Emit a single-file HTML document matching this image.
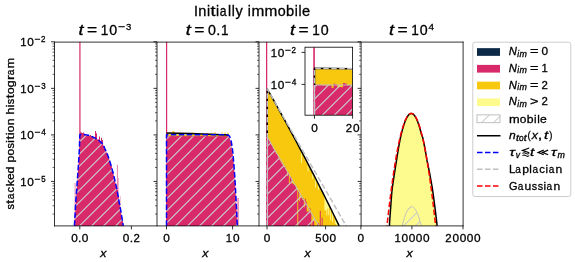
<!DOCTYPE html>
<html><head><meta charset="utf-8"><title>Initially immobile</title><style>html,body{margin:0;padding:0;background:#fff;}body{width:575px;height:262px;overflow:hidden;}text{font-family:"Liberation Sans",sans-serif;stroke:#000;stroke-width:0.3px;}</style></head><body>
<svg width="575" height="262" viewBox="0 0 575 262" style="will-change:transform;display:block;font-family:'Liberation Sans',sans-serif">
<defs>
<pattern id="hatch" patternUnits="userSpaceOnUse" x="0" y="0" width="12" height="12"><path d="M-4,9.5 L9.5,-4 M1.5,16 L16,1.5" stroke="#cdcfcf" stroke-width="1.1" fill="none"/></pattern>
<pattern id="hatchL" patternUnits="userSpaceOnUse" x="0" y="0" width="12" height="12"><path d="M-4,8.2 L8.2,-4 M0.20000000000000018,16 L16,0.20000000000000018" stroke="#cdcfcf" stroke-width="1.1" fill="none"/></pattern>
<clipPath id="ax0"><rect x="54.5" y="41.8" width="102.10" height="184.10"/></clipPath>
<clipPath id="ax1"><rect x="156.6" y="41.8" width="102.10" height="184.10"/></clipPath>
<clipPath id="ax2"><rect x="258.7" y="41.8" width="102.20" height="184.10"/></clipPath>
<clipPath id="ax3"><rect x="360.9" y="41.8" width="102.10" height="184.10"/></clipPath>
<clipPath id="inset"><rect x="305" y="47.2" width="47.6" height="68"/></clipPath>
</defs>
<rect width="575" height="262" fill="#fff"/>
<g clip-path="url(#ax0)">
<clipPath id="env1"><path d="M74.40,225.90 L74.49,224.37 L74.61,222.23 L74.76,219.70 L74.91,217.01 L75.06,214.37 L75.20,212.00 L75.32,209.89 L75.43,207.86 L75.54,205.88 L75.66,203.93 L75.77,201.98 L75.90,200.00 L76.04,198.01 L76.19,196.04 L76.34,194.06 L76.49,192.07 L76.65,190.06 L76.80,188.00 L76.95,185.89 L77.10,183.74 L77.25,181.56 L77.40,179.37 L77.55,177.18 L77.70,175.00 L77.85,172.82 L78.01,170.63 L78.16,168.44 L78.31,166.26 L78.46,164.11 L78.60,162.00 L78.73,159.90 L78.86,157.78 L78.99,155.69 L79.10,153.67 L79.21,151.76 L79.30,150.00 L79.37,148.41 L79.43,146.96 L79.48,145.62 L79.52,144.37 L79.56,143.17 L79.60,142.00 L79.64,140.81 L79.68,139.63 L79.72,138.50 L79.75,137.48 L79.78,136.63 L79.80,136.00 L79.90,134.60 L80.24,134.58 L80.72,134.56 L81.28,134.53 L81.88,134.51 L82.47,134.49 L83.00,134.50 L83.47,134.52 L83.91,134.56 L84.34,134.60 L84.77,134.66 L85.22,134.72 L85.70,134.80 L86.21,134.88 L86.73,134.97 L87.28,135.08 L87.83,135.19 L88.41,135.33 L89.00,135.50 L89.61,135.69 L90.23,135.91 L90.88,136.14 L91.53,136.40 L92.21,136.69 L92.90,137.00 L93.62,137.34 L94.38,137.70 L95.15,138.09 L95.92,138.51 L96.68,138.94 L97.40,139.40 L98.11,139.90 L98.81,140.44 L99.51,141.00 L100.16,141.56 L100.77,142.10 L101.30,142.60 L101.75,143.03 L102.13,143.42 L102.45,143.78 L102.74,144.15 L103.02,144.55 L103.30,145.00 L103.57,145.50 L103.80,146.01 L104.02,146.56 L104.24,147.14 L104.50,147.79 L104.80,148.50 L105.16,149.27 L105.55,150.09 L105.98,150.97 L106.41,151.91 L106.86,152.92 L107.30,154.00 L107.74,155.17 L108.18,156.41 L108.62,157.72 L109.08,159.09 L109.54,160.52 L110.00,162.00 L110.48,163.56 L110.98,165.22 L111.49,166.94 L111.99,168.67 L112.46,170.37 L112.90,172.00 L113.30,173.56 L113.66,175.07 L114.01,176.56 L114.34,178.04 L114.67,179.51 L115.00,181.00 L115.34,182.49 L115.68,183.96 L116.02,185.44 L116.35,186.93 L116.68,188.44 L117.00,190.00 L117.31,191.59 L117.60,193.19 L117.89,194.81 L118.18,196.48 L118.48,198.21 L118.80,200.00 L119.14,201.86 L119.50,203.78 L119.87,205.76 L120.24,207.79 L120.62,209.87 L121.00,212.00 L121.40,214.37 L121.84,217.01 L122.29,219.70 L122.70,222.23 L123.05,224.37 L123.30,225.90 Z"/></clipPath>
<path d="M74.40,225.90 L74.49,224.37 L74.61,222.23 L74.76,219.70 L74.91,217.01 L75.06,214.37 L75.20,212.00 L75.32,209.89 L75.43,207.86 L75.54,205.88 L75.66,203.93 L75.77,201.98 L75.90,200.00 L76.04,198.01 L76.19,196.04 L76.34,194.06 L76.49,192.07 L76.65,190.06 L76.80,188.00 L76.95,185.89 L77.10,183.74 L77.25,181.56 L77.40,179.37 L77.55,177.18 L77.70,175.00 L77.85,172.82 L78.01,170.63 L78.16,168.44 L78.31,166.26 L78.46,164.11 L78.60,162.00 L78.73,159.90 L78.86,157.78 L78.99,155.69 L79.10,153.67 L79.21,151.76 L79.30,150.00 L79.37,148.41 L79.43,146.96 L79.48,145.62 L79.52,144.37 L79.56,143.17 L79.60,142.00 L79.64,140.81 L79.68,139.63 L79.72,138.50 L79.75,137.48 L79.78,136.63 L79.80,136.00 L79.90,134.60 L80.24,134.58 L80.72,134.56 L81.28,134.53 L81.88,134.51 L82.47,134.49 L83.00,134.50 L83.47,134.52 L83.91,134.56 L84.34,134.60 L84.77,134.66 L85.22,134.72 L85.70,134.80 L86.21,134.88 L86.73,134.97 L87.28,135.08 L87.83,135.19 L88.41,135.33 L89.00,135.50 L89.61,135.69 L90.23,135.91 L90.88,136.14 L91.53,136.40 L92.21,136.69 L92.90,137.00 L93.62,137.34 L94.38,137.70 L95.15,138.09 L95.92,138.51 L96.68,138.94 L97.40,139.40 L98.11,139.90 L98.81,140.44 L99.51,141.00 L100.16,141.56 L100.77,142.10 L101.30,142.60 L101.75,143.03 L102.13,143.42 L102.45,143.78 L102.74,144.15 L103.02,144.55 L103.30,145.00 L103.57,145.50 L103.80,146.01 L104.02,146.56 L104.24,147.14 L104.50,147.79 L104.80,148.50 L105.16,149.27 L105.55,150.09 L105.98,150.97 L106.41,151.91 L106.86,152.92 L107.30,154.00 L107.74,155.17 L108.18,156.41 L108.62,157.72 L109.08,159.09 L109.54,160.52 L110.00,162.00 L110.48,163.56 L110.98,165.22 L111.49,166.94 L111.99,168.67 L112.46,170.37 L112.90,172.00 L113.30,173.56 L113.66,175.07 L114.01,176.56 L114.34,178.04 L114.67,179.51 L115.00,181.00 L115.34,182.49 L115.68,183.96 L116.02,185.44 L116.35,186.93 L116.68,188.44 L117.00,190.00 L117.31,191.59 L117.60,193.19 L117.89,194.81 L118.18,196.48 L118.48,198.21 L118.80,200.00 L119.14,201.86 L119.50,203.78 L119.87,205.76 L120.24,207.79 L120.62,209.87 L121.00,212.00 L121.40,214.37 L121.84,217.01 L122.29,219.70 L122.70,222.23 L123.05,224.37 L123.30,225.90 Z" fill="#d82a6a"/>
<path d="M74.00,225.90 L74.00,225.04 L75.00,225.04 L75.00,225.90 L74.00,225.90 Z M77.00,225.90 L77.00,224.58 L78.00,224.58 L78.00,225.90 L77.00,225.90 Z M80.00,225.90 L80.00,132.20 L81.00,132.20 L81.00,132.40 L82.00,132.40 L82.00,133.00 L83.00,133.00 L83.00,132.60 L84.00,132.60 L84.00,133.63 L85.00,133.63 L85.00,134.65 L86.00,134.65 L86.00,137.24 L87.00,137.24 L87.00,135.09 L88.00,135.09 L88.00,135.29 L89.00,135.29 L89.00,135.92 L90.00,135.92 L90.00,134.95 L91.00,134.95 L91.00,136.04 L92.00,136.04 L92.00,136.41 L93.00,136.41 L93.00,137.19 L94.00,137.19 L94.00,138.30 L95.00,138.30 L95.00,131.00 L96.00,131.00 L96.00,133.20 L97.00,133.20 L97.00,139.62 L98.00,139.62 L98.00,139.54 L99.00,139.54 L99.00,136.50 L100.00,136.50 L100.00,141.99 L101.00,141.99 L101.00,137.80 L102.00,137.80 L102.00,140.00 L103.00,140.00 L103.00,146.02 L104.00,146.02 L104.00,147.92 L105.00,147.92 L105.00,150.51 L106.00,150.51 L106.00,152.88 L107.00,152.88 L107.00,155.03 L108.00,155.03 L108.00,158.13 L109.00,158.13 L109.00,160.20 L110.00,160.20 L110.00,164.71 L111.00,164.71 L111.00,166.28 L112.00,166.28 L112.00,171.08 L113.00,171.08 L113.00,176.02 L114.00,176.02 L114.00,180.51 L115.00,180.51 L115.00,183.61 L116.00,183.61 L116.00,187.13 L117.00,187.13 L117.00,189.99 L118.00,189.99 L118.00,197.05 L119.00,197.05 L119.00,203.28 L120.00,203.28 L120.00,209.74 L121.00,209.74 L121.00,215.00 L122.00,215.00 L122.00,220.67 L123.00,220.67 L123.00,225.74 L124.00,225.74 L124.00,225.90 L123.00,225.90 L123.00,225.90 L122.00,225.90 L122.00,225.90 L121.00,225.90 L121.00,225.90 L120.00,225.90 L120.00,225.90 L119.00,225.90 L119.00,225.90 L118.00,225.90 L118.00,225.90 L117.00,225.90 L117.00,225.90 L116.00,225.90 L116.00,225.90 L115.00,225.90 L115.00,225.90 L114.00,225.90 L114.00,225.90 L113.00,225.90 L113.00,225.90 L112.00,225.90 L112.00,225.90 L111.00,225.90 L111.00,225.90 L110.00,225.90 L110.00,225.90 L109.00,225.90 L109.00,225.90 L108.00,225.90 L108.00,225.90 L107.00,225.90 L107.00,225.90 L106.00,225.90 L106.00,225.90 L105.00,225.90 L105.00,225.90 L104.00,225.90 L104.00,225.90 L103.00,225.90 L103.00,225.90 L102.00,225.90 L102.00,225.90 L101.00,225.90 L101.00,225.90 L100.00,225.90 L100.00,225.90 L99.00,225.90 L99.00,225.90 L98.00,225.90 L98.00,225.90 L97.00,225.90 L97.00,225.90 L96.00,225.90 L96.00,225.90 L95.00,225.90 L95.00,225.90 L94.00,225.90 L94.00,225.90 L93.00,225.90 L93.00,225.90 L92.00,225.90 L92.00,225.90 L91.00,225.90 L91.00,225.90 L90.00,225.90 L90.00,225.90 L89.00,225.90 L89.00,225.90 L88.00,225.90 L88.00,225.90 L87.00,225.90 L87.00,225.90 L86.00,225.90 L86.00,225.90 L85.00,225.90 L85.00,225.90 L84.00,225.90 L84.00,225.90 L83.00,225.90 L83.00,225.90 L82.00,225.90 L82.00,225.90 L81.00,225.90 L81.00,225.90 L80.00,225.90 Z" fill="#d82a6a"/>
<rect x="74.6" y="183" width="1.00" height="42.90" fill="#d82a6a" fill-opacity="0.55"/>
<rect x="116.9" y="164.8" width="1.10" height="61.10" fill="#d82a6a" fill-opacity="0.55"/>
<rect x="118.0" y="178" width="1.00" height="47.90" fill="#d82a6a" fill-opacity="0.35"/>
<rect x="119.8" y="196" width="0.80" height="29.90" fill="#d82a6a" fill-opacity="0.45"/>
<rect x="79.2" y="41.8" width="1.4" height="184.10" fill="#d82a6a" fill-opacity="0.85"/>
<path d="M74.40,225.90 L74.49,224.37 L74.61,222.23 L74.76,219.70 L74.91,217.01 L75.06,214.37 L75.20,212.00 L75.32,209.89 L75.43,207.86 L75.54,205.88 L75.66,203.93 L75.77,201.98 L75.90,200.00 L76.04,198.01 L76.19,196.04 L76.34,194.06 L76.49,192.07 L76.65,190.06 L76.80,188.00 L76.95,185.89 L77.10,183.74 L77.25,181.56 L77.40,179.37 L77.55,177.18 L77.70,175.00 L77.85,172.82 L78.01,170.63 L78.16,168.44 L78.31,166.26 L78.46,164.11 L78.60,162.00 L78.73,159.90 L78.86,157.78 L78.99,155.69 L79.10,153.67 L79.21,151.76 L79.30,150.00 L79.37,148.41 L79.43,146.96 L79.48,145.62 L79.52,144.37 L79.56,143.17 L79.60,142.00 L79.64,140.81 L79.68,139.63 L79.72,138.50 L79.75,137.48 L79.78,136.63 L79.80,136.00 L79.90,134.60 L80.24,134.58 L80.72,134.56 L81.28,134.53 L81.88,134.51 L82.47,134.49 L83.00,134.50 L83.47,134.52 L83.91,134.56 L84.34,134.60 L84.77,134.66 L85.22,134.72 L85.70,134.80 L86.21,134.88 L86.73,134.97 L87.28,135.08 L87.83,135.19 L88.41,135.33 L89.00,135.50 L89.61,135.69 L90.23,135.91 L90.88,136.14 L91.53,136.40 L92.21,136.69 L92.90,137.00 L93.62,137.34 L94.38,137.70 L95.15,138.09 L95.92,138.51 L96.68,138.94 L97.40,139.40 L98.11,139.90 L98.81,140.44 L99.51,141.00 L100.16,141.56 L100.77,142.10 L101.30,142.60 L101.75,143.03 L102.13,143.42 L102.45,143.78 L102.74,144.15 L103.02,144.55 L103.30,145.00 L103.57,145.50 L103.80,146.01 L104.02,146.56 L104.24,147.14 L104.50,147.79 L104.80,148.50 L105.16,149.27 L105.55,150.09 L105.98,150.97 L106.41,151.91 L106.86,152.92 L107.30,154.00 L107.74,155.17 L108.18,156.41 L108.62,157.72 L109.08,159.09 L109.54,160.52 L110.00,162.00 L110.48,163.56 L110.98,165.22 L111.49,166.94 L111.99,168.67 L112.46,170.37 L112.90,172.00 L113.30,173.56 L113.66,175.07 L114.01,176.56 L114.34,178.04 L114.67,179.51 L115.00,181.00 L115.34,182.49 L115.68,183.96 L116.02,185.44 L116.35,186.93 L116.68,188.44 L117.00,190.00 L117.31,191.59 L117.60,193.19 L117.89,194.81 L118.18,196.48 L118.48,198.21 L118.80,200.00 L119.14,201.86 L119.50,203.78 L119.87,205.76 L120.24,207.79 L120.62,209.87 L121.00,212.00 L121.40,214.37 L121.84,217.01 L122.29,219.70 L122.70,222.23 L123.05,224.37 L123.30,225.90 Z" fill="url(#hatch)"/>
<path d="M74.40,225.90 L74.49,224.37 L74.61,222.23 L74.76,219.70 L74.91,217.01 L75.06,214.37 L75.20,212.00 L75.32,209.89 L75.43,207.86 L75.54,205.88 L75.66,203.93 L75.77,201.98 L75.90,200.00 L76.04,198.01 L76.19,196.04 L76.34,194.06 L76.49,192.07 L76.65,190.06 L76.80,188.00 L76.95,185.89 L77.10,183.74 L77.25,181.56 L77.40,179.37 L77.55,177.18 L77.70,175.00 L77.85,172.82 L78.01,170.63 L78.16,168.44 L78.31,166.26 L78.46,164.11 L78.60,162.00 L78.73,159.90 L78.86,157.78 L78.99,155.69 L79.10,153.67 L79.21,151.76 L79.30,150.00 L79.37,148.41 L79.43,146.96 L79.48,145.62 L79.52,144.37 L79.56,143.17 L79.60,142.00 L79.64,140.81 L79.68,139.63 L79.72,138.50 L79.75,137.48 L79.78,136.63 L79.80,136.00 L79.90,134.60 L80.24,134.58 L80.72,134.56 L81.28,134.53 L81.88,134.51 L82.47,134.49 L83.00,134.50 L83.47,134.52 L83.91,134.56 L84.34,134.60 L84.77,134.66 L85.22,134.72 L85.70,134.80 L86.21,134.88 L86.73,134.97 L87.28,135.08 L87.83,135.19 L88.41,135.33 L89.00,135.50 L89.61,135.69 L90.23,135.91 L90.88,136.14 L91.53,136.40 L92.21,136.69 L92.90,137.00 L93.62,137.34 L94.38,137.70 L95.15,138.09 L95.92,138.51 L96.68,138.94 L97.40,139.40 L98.11,139.90 L98.81,140.44 L99.51,141.00 L100.16,141.56 L100.77,142.10 L101.30,142.60 L101.75,143.03 L102.13,143.42 L102.45,143.78 L102.74,144.15 L103.02,144.55 L103.30,145.00 L103.57,145.50 L103.80,146.01 L104.02,146.56 L104.24,147.14 L104.50,147.79 L104.80,148.50 L105.16,149.27 L105.55,150.09 L105.98,150.97 L106.41,151.91 L106.86,152.92 L107.30,154.00 L107.74,155.17 L108.18,156.41 L108.62,157.72 L109.08,159.09 L109.54,160.52 L110.00,162.00 L110.48,163.56 L110.98,165.22 L111.49,166.94 L111.99,168.67 L112.46,170.37 L112.90,172.00 L113.30,173.56 L113.66,175.07 L114.01,176.56 L114.34,178.04 L114.67,179.51 L115.00,181.00 L115.34,182.49 L115.68,183.96 L116.02,185.44 L116.35,186.93 L116.68,188.44 L117.00,190.00 L117.31,191.59 L117.60,193.19 L117.89,194.81 L118.18,196.48 L118.48,198.21 L118.80,200.00 L119.14,201.86 L119.50,203.78 L119.87,205.76 L120.24,207.79 L120.62,209.87 L121.00,212.00 L121.40,214.37 L121.84,217.01 L122.29,219.70 L122.70,222.23 L123.05,224.37 L123.30,225.90" fill="none" stroke="#0000ff" stroke-width="1.5" stroke-dasharray="5.55,2.4" stroke-linejoin="round"/>
</g>
<g clip-path="url(#ax1)">
<path d="M166.50,137.00 L166.50,134.47 L167.50,134.47 L167.50,132.67 L168.50,132.67 L168.50,134.79 L169.50,134.79 L169.50,132.73 L170.50,132.73 L170.50,134.21 L171.50,134.21 L171.50,133.99 L172.50,133.99 L172.50,130.80 L173.50,130.80 L173.50,131.50 L174.50,131.50 L174.50,134.60 L175.50,134.60 L175.50,134.68 L176.50,134.68 L176.50,134.07 L177.50,134.07 L177.50,134.85 L178.50,134.85 L178.50,134.18 L179.50,134.18 L179.50,132.40 L180.50,132.40 L180.50,134.49 L181.50,134.49 L181.50,134.44 L182.50,134.44 L182.50,133.74 L183.50,133.74 L183.50,135.03 L184.50,135.03 L184.50,134.66 L185.50,134.66 L185.50,134.68 L186.50,134.68 L186.50,133.00 L187.50,133.00 L187.50,133.79 L188.50,133.79 L188.50,133.72 L189.50,133.72 L189.50,134.36 L190.50,134.36 L190.50,134.67 L191.50,134.67 L191.50,134.56 L192.50,134.56 L192.50,132.52 L193.50,132.52 L193.50,134.67 L194.50,134.67 L194.50,133.96 L195.50,133.96 L195.50,134.66 L196.50,134.66 L196.50,134.99 L197.50,134.99 L197.50,134.68 L198.50,134.68 L198.50,134.36 L199.50,134.36 L199.50,135.04 L200.50,135.04 L200.50,134.31 L201.50,134.31 L201.50,134.22 L202.50,134.22 L202.50,134.48 L203.50,134.48 L203.50,134.98 L204.50,134.98 L204.50,135.13 L205.50,135.13 L205.50,134.05 L206.50,134.05 L206.50,134.21 L207.50,134.21 L207.50,134.41 L208.50,134.41 L208.50,134.53 L209.50,134.53 L209.50,135.02 L210.50,135.02 L210.50,133.43 L211.50,133.43 L211.50,132.81 L212.50,132.81 L212.50,134.67 L213.50,134.67 L213.50,133.74 L214.50,133.74 L214.50,132.03 L215.50,132.03 L215.50,134.22 L216.50,134.22 L216.50,133.97 L217.50,133.97 L217.50,134.53 L218.50,134.53 L218.50,134.83 L219.50,134.83 L219.50,135.27 L220.50,135.27 L220.50,134.21 L221.50,134.21 L221.50,132.34 L222.50,132.34 L222.50,134.95 L223.50,134.95 L223.50,134.34 L224.50,134.34 L224.50,132.40 L225.50,132.40 L225.50,134.83 L226.50,134.83 L226.50,134.53 L227.50,134.53 L227.50,132.58 L228.50,132.58 L228.50,137.00 L227.50,137.00 L227.50,137.00 L226.50,137.00 L226.50,137.00 L225.50,137.00 L225.50,137.00 L224.50,137.00 L224.50,137.00 L223.50,137.00 L223.50,137.00 L222.50,137.00 L222.50,137.00 L221.50,137.00 L221.50,137.00 L220.50,137.00 L220.50,137.00 L219.50,137.00 L219.50,137.00 L218.50,137.00 L218.50,137.00 L217.50,137.00 L217.50,137.00 L216.50,137.00 L216.50,137.00 L215.50,137.00 L215.50,137.00 L214.50,137.00 L214.50,137.00 L213.50,137.00 L213.50,137.00 L212.50,137.00 L212.50,137.00 L211.50,137.00 L211.50,137.00 L210.50,137.00 L210.50,137.00 L209.50,137.00 L209.50,137.00 L208.50,137.00 L208.50,137.00 L207.50,137.00 L207.50,137.00 L206.50,137.00 L206.50,137.00 L205.50,137.00 L205.50,137.00 L204.50,137.00 L204.50,137.00 L203.50,137.00 L203.50,137.00 L202.50,137.00 L202.50,137.00 L201.50,137.00 L201.50,137.00 L200.50,137.00 L200.50,137.00 L199.50,137.00 L199.50,137.00 L198.50,137.00 L198.50,137.00 L197.50,137.00 L197.50,137.00 L196.50,137.00 L196.50,137.00 L195.50,137.00 L195.50,137.00 L194.50,137.00 L194.50,137.00 L193.50,137.00 L193.50,137.00 L192.50,137.00 L192.50,137.00 L191.50,137.00 L191.50,137.00 L190.50,137.00 L190.50,137.00 L189.50,137.00 L189.50,137.00 L188.50,137.00 L188.50,137.00 L187.50,137.00 L187.50,137.00 L186.50,137.00 L186.50,137.00 L185.50,137.00 L185.50,137.00 L184.50,137.00 L184.50,137.00 L183.50,137.00 L183.50,137.00 L182.50,137.00 L182.50,137.00 L181.50,137.00 L181.50,137.00 L180.50,137.00 L180.50,137.00 L179.50,137.00 L179.50,137.00 L178.50,137.00 L178.50,137.00 L177.50,137.00 L177.50,137.00 L176.50,137.00 L176.50,137.00 L175.50,137.00 L175.50,137.00 L174.50,137.00 L174.50,137.00 L173.50,137.00 L173.50,137.00 L172.50,137.00 L172.50,137.00 L171.50,137.00 L171.50,137.00 L170.50,137.00 L170.50,137.00 L169.50,137.00 L169.50,137.00 L168.50,137.00 L168.50,137.00 L167.50,137.00 L167.50,137.00 L166.50,137.00 Z" fill="#f8c80e"/>
<path d="M166.50,225.90 L166.50,136.30 L228.30,136.60 L229.60,138.20 L230.60,141.00 L231.40,146.00 L232.20,152.00 L233.10,156.00 L234.00,166.00 L234.90,178.00 L235.90,198.00 L236.60,210.00 L237.30,225.90 Z" fill="#d82a6a"/>
<path d="M166.50,137.50 L166.50,136.45 L167.50,136.45 L167.50,135.92 L168.50,135.92 L168.50,136.21 L169.50,136.21 L169.50,136.36 L170.50,136.36 L170.50,136.62 L171.50,136.62 L171.50,136.14 L172.50,136.14 L172.50,136.31 L173.50,136.31 L173.50,136.59 L174.50,136.59 L174.50,136.52 L175.50,136.52 L175.50,136.65 L176.50,136.65 L176.50,136.22 L177.50,136.22 L177.50,136.39 L178.50,136.39 L178.50,135.98 L179.50,135.98 L179.50,136.45 L180.50,136.45 L180.50,136.54 L181.50,136.54 L181.50,136.38 L182.50,136.38 L182.50,136.45 L183.50,136.45 L183.50,135.99 L184.50,135.99 L184.50,136.61 L185.50,136.61 L185.50,136.68 L186.50,136.68 L186.50,136.68 L187.50,136.68 L187.50,136.28 L188.50,136.28 L188.50,136.51 L189.50,136.51 L189.50,136.09 L190.50,136.09 L190.50,136.62 L191.50,136.62 L191.50,136.57 L192.50,136.57 L192.50,136.11 L193.50,136.11 L193.50,135.87 L194.50,135.87 L194.50,136.20 L195.50,136.20 L195.50,136.30 L196.50,136.30 L196.50,136.49 L197.50,136.49 L197.50,136.24 L198.50,136.24 L198.50,135.83 L199.50,135.83 L199.50,136.53 L200.50,136.53 L200.50,135.86 L201.50,135.86 L201.50,136.52 L202.50,136.52 L202.50,135.96 L203.50,135.96 L203.50,136.10 L204.50,136.10 L204.50,136.51 L205.50,136.51 L205.50,135.93 L206.50,135.93 L206.50,133.00 L207.50,133.00 L207.50,136.26 L208.50,136.26 L208.50,136.45 L209.50,136.45 L209.50,136.56 L210.50,136.56 L210.50,136.42 L211.50,136.42 L211.50,136.65 L212.50,136.65 L212.50,136.24 L213.50,136.24 L213.50,136.65 L214.50,136.65 L214.50,135.88 L215.50,135.88 L215.50,136.00 L216.50,136.00 L216.50,136.27 L217.50,136.27 L217.50,136.06 L218.50,136.06 L218.50,136.46 L219.50,136.46 L219.50,136.37 L220.50,136.37 L220.50,136.27 L221.50,136.27 L221.50,136.56 L222.50,136.56 L222.50,136.30 L223.50,136.30 L223.50,136.08 L224.50,136.08 L224.50,136.14 L225.50,136.14 L225.50,136.56 L226.50,136.56 L226.50,136.61 L227.50,136.61 L227.50,135.99 L228.50,135.99 L228.50,137.50 L227.50,137.50 L227.50,137.50 L226.50,137.50 L226.50,137.50 L225.50,137.50 L225.50,137.50 L224.50,137.50 L224.50,137.50 L223.50,137.50 L223.50,137.50 L222.50,137.50 L222.50,137.50 L221.50,137.50 L221.50,137.50 L220.50,137.50 L220.50,137.50 L219.50,137.50 L219.50,137.50 L218.50,137.50 L218.50,137.50 L217.50,137.50 L217.50,137.50 L216.50,137.50 L216.50,137.50 L215.50,137.50 L215.50,137.50 L214.50,137.50 L214.50,137.50 L213.50,137.50 L213.50,137.50 L212.50,137.50 L212.50,137.50 L211.50,137.50 L211.50,137.50 L210.50,137.50 L210.50,137.50 L209.50,137.50 L209.50,137.50 L208.50,137.50 L208.50,137.50 L207.50,137.50 L207.50,137.50 L206.50,137.50 L206.50,137.50 L205.50,137.50 L205.50,137.50 L204.50,137.50 L204.50,137.50 L203.50,137.50 L203.50,137.50 L202.50,137.50 L202.50,137.50 L201.50,137.50 L201.50,137.50 L200.50,137.50 L200.50,137.50 L199.50,137.50 L199.50,137.50 L198.50,137.50 L198.50,137.50 L197.50,137.50 L197.50,137.50 L196.50,137.50 L196.50,137.50 L195.50,137.50 L195.50,137.50 L194.50,137.50 L194.50,137.50 L193.50,137.50 L193.50,137.50 L192.50,137.50 L192.50,137.50 L191.50,137.50 L191.50,137.50 L190.50,137.50 L190.50,137.50 L189.50,137.50 L189.50,137.50 L188.50,137.50 L188.50,137.50 L187.50,137.50 L187.50,137.50 L186.50,137.50 L186.50,137.50 L185.50,137.50 L185.50,137.50 L184.50,137.50 L184.50,137.50 L183.50,137.50 L183.50,137.50 L182.50,137.50 L182.50,137.50 L181.50,137.50 L181.50,137.50 L180.50,137.50 L180.50,137.50 L179.50,137.50 L179.50,137.50 L178.50,137.50 L178.50,137.50 L177.50,137.50 L177.50,137.50 L176.50,137.50 L176.50,137.50 L175.50,137.50 L175.50,137.50 L174.50,137.50 L174.50,137.50 L173.50,137.50 L173.50,137.50 L172.50,137.50 L172.50,137.50 L171.50,137.50 L171.50,137.50 L170.50,137.50 L170.50,137.50 L169.50,137.50 L169.50,137.50 L168.50,137.50 L168.50,137.50 L167.50,137.50 L167.50,137.50 L166.50,137.50 Z" fill="#d82a6a"/>
<rect x="237.3" y="198" width="1.6" height="27.90" fill="#d82a6a" fill-opacity="0.5"/>
<rect x="166.0" y="41.8" width="1.2" height="184.10" fill="#d82a6a"/>
<path d="M166.50,225.90 L166.50,136.30 L228.30,136.60 L229.60,138.20 L230.60,141.00 L231.40,146.00 L232.20,152.00 L233.10,156.00 L234.00,166.00 L234.90,178.00 L235.90,198.00 L236.60,210.00 L237.30,225.90 Z" fill="url(#hatch)"/>
<path d="M166.50,133.00 L190.00,133.60 L210.00,134.30 L228.50,134.90" fill="none" stroke="#000" stroke-width="1.5" stroke-linejoin="round"/>
<path d="M166.50,225.90 L166.50,134.80 L227.50,134.80 L227.50,134.80 L227.84,134.99 L228.33,135.24 L228.86,135.58 L229.30,136.00 L229.63,136.50 L229.90,137.07 L230.15,137.74 L230.40,138.50 L230.66,139.38 L230.93,140.38 L231.17,141.43 L231.40,142.50 L231.60,143.58 L231.77,144.69 L231.93,145.83 L232.10,147.00 L232.28,148.14 L232.45,149.28 L232.62,150.53 L232.80,152.00 L232.97,153.74 L233.14,155.69 L233.32,157.79 L233.50,160.00 L233.70,162.36 L233.90,164.88 L234.10,167.45 L234.30,170.00 L234.48,172.38 L234.65,174.69 L234.82,177.15 L235.00,180.00 L235.19,183.40 L235.39,187.19 L235.60,191.13 L235.80,195.00 L236.00,198.73 L236.21,202.44 L236.41,206.19 L236.60,210.00 L236.80,214.28 L237.00,218.89 L237.18,223.02 L237.30,225.90" fill="none" stroke="#0000ff" stroke-width="1.5" stroke-dasharray="5.55,2.4" stroke-linejoin="round"/>
</g>
<g clip-path="url(#ax2)">
<path d="M267.30,225.90 L267.30,92.30 L268.24,92.30 L268.24,91.99 L269.18,91.99 L269.18,93.65 L270.11,93.65 L270.11,95.31 L271.05,95.31 L271.05,96.98 L271.99,96.98 L271.99,98.65 L272.93,98.65 L272.93,100.33 L273.86,100.33 L273.86,102.00 L274.80,102.00 L274.80,103.68 L275.74,103.68 L275.74,105.37 L276.68,105.37 L276.68,107.05 L277.61,107.05 L277.61,108.74 L278.55,108.74 L278.55,110.43 L279.49,110.43 L279.49,112.13 L280.43,112.13 L280.43,113.83 L281.36,113.83 L281.36,115.53 L282.30,115.53 L282.30,117.23 L283.24,117.23 L283.24,118.94 L284.18,118.94 L284.18,120.65 L285.11,120.65 L285.11,122.36 L286.05,122.36 L286.05,124.08 L286.99,124.08 L286.99,125.80 L287.93,125.80 L287.93,127.52 L288.86,127.52 L288.86,129.25 L289.80,129.25 L289.80,130.98 L290.74,130.98 L290.74,132.71 L291.68,132.71 L291.68,134.45 L292.61,134.45 L292.61,136.19 L293.55,136.19 L293.55,137.94 L294.49,137.94 L294.49,139.68 L295.43,139.68 L295.43,141.43 L296.36,141.43 L296.36,143.19 L297.30,143.19 L297.30,144.94 L298.24,144.94 L298.24,146.70 L299.18,146.70 L299.18,148.47 L300.11,148.47 L300.11,150.24 L301.05,150.24 L301.05,152.01 L301.99,152.01 L301.99,153.78 L302.93,153.78 L302.93,155.56 L303.86,155.56 L303.86,157.34 L304.80,157.34 L304.80,159.13 L305.74,159.13 L305.74,160.92 L306.68,160.92 L306.68,162.71 L307.61,162.71 L307.61,164.51 L308.55,164.51 L308.55,166.31 L309.49,166.31 L309.49,168.11 L310.43,168.11 L310.43,169.92 L311.36,169.92 L311.36,171.73 L312.30,171.73 L312.30,173.55 L313.24,173.55 L313.24,175.37 L314.18,175.37 L314.18,177.19 L315.11,177.19 L315.11,179.02 L316.05,179.02 L316.05,180.85 L316.99,180.85 L316.99,182.68 L317.93,182.68 L317.93,184.52 L318.86,184.52 L318.86,186.36 L319.80,186.36 L319.80,188.21 L320.74,188.21 L320.74,190.06 L321.68,190.06 L321.68,191.92 L322.61,191.92 L322.61,193.77 L323.55,193.77 L323.55,195.64 L324.49,195.64 L324.49,197.50 L325.43,197.50 L325.43,199.38 L326.36,199.38 L326.36,201.25 L327.30,201.25 L327.30,203.13 L328.24,203.13 L328.24,205.01 L329.18,205.01 L329.18,206.90 L330.11,206.90 L330.11,208.79 L331.05,208.79 L331.05,210.69 L331.99,210.69 L331.99,212.59 L332.93,212.59 L332.93,214.50 L333.86,214.50 L333.86,216.41 L334.80,216.41 L334.80,218.32 L335.74,218.32 L335.74,220.24 L336.68,220.24 L336.68,222.17 L337.61,222.17 L337.61,224.09 L338.55,224.09 L338.55,225.90 L337.61,225.90 L337.61,225.90 L336.68,225.90 L336.68,225.90 L335.74,225.90 L335.74,225.90 L334.80,225.90 L334.80,225.90 L333.86,225.90 L333.86,225.90 L332.93,225.90 L332.93,225.90 L331.99,225.90 L331.99,225.90 L331.05,225.90 L331.05,225.90 L330.11,225.90 L330.11,225.90 L329.18,225.90 L329.18,225.90 L328.24,225.90 L328.24,225.90 L327.30,225.90 L327.30,225.90 L326.36,225.90 L326.36,225.90 L325.43,225.90 L325.43,225.90 L324.49,225.90 L324.49,225.90 L323.55,225.90 L323.55,225.90 L322.61,225.90 L322.61,225.90 L321.68,225.90 L321.68,225.90 L320.74,225.90 L320.74,225.90 L319.80,225.90 L319.80,225.90 L318.86,225.90 L318.86,225.90 L317.93,225.90 L317.93,225.90 L316.99,225.90 L316.99,225.90 L316.05,225.90 L316.05,225.90 L315.11,225.90 L315.11,225.90 L314.18,225.90 L314.18,225.90 L313.24,225.90 L313.24,225.90 L312.30,225.90 L312.30,225.90 L311.36,225.90 L311.36,225.90 L310.43,225.90 L310.43,225.90 L309.49,225.90 L309.49,225.90 L308.55,225.90 L308.55,225.90 L307.61,225.90 L307.61,225.90 L306.68,225.90 L306.68,225.90 L305.74,225.90 L305.74,225.90 L304.80,225.90 L304.80,225.90 L303.86,225.90 L303.86,225.90 L302.93,225.90 L302.93,225.90 L301.99,225.90 L301.99,225.90 L301.05,225.90 L301.05,225.90 L300.11,225.90 L300.11,225.90 L299.18,225.90 L299.18,225.90 L298.24,225.90 L298.24,225.90 L297.30,225.90 L297.30,225.90 L296.36,225.90 L296.36,225.90 L295.43,225.90 L295.43,225.90 L294.49,225.90 L294.49,225.90 L293.55,225.90 L293.55,225.90 L292.61,225.90 L292.61,225.90 L291.68,225.90 L291.68,225.90 L290.74,225.90 L290.74,225.90 L289.80,225.90 L289.80,225.90 L288.86,225.90 L288.86,225.90 L287.93,225.90 L287.93,225.90 L286.99,225.90 L286.99,225.90 L286.05,225.90 L286.05,225.90 L285.11,225.90 L285.11,225.90 L284.18,225.90 L284.18,225.90 L283.24,225.90 L283.24,225.90 L282.30,225.90 L282.30,225.90 L281.36,225.90 L281.36,225.90 L280.43,225.90 L280.43,225.90 L279.49,225.90 L279.49,225.90 L278.55,225.90 L278.55,225.90 L277.61,225.90 L277.61,225.90 L276.68,225.90 L276.68,225.90 L275.74,225.90 L275.74,225.90 L274.80,225.90 L274.80,225.90 L273.86,225.90 L273.86,225.90 L272.93,225.90 L272.93,225.90 L271.99,225.90 L271.99,225.90 L271.05,225.90 L271.05,225.90 L270.11,225.90 L270.11,225.90 L269.18,225.90 L269.18,225.90 L268.24,225.90 L268.24,225.90 L267.30,225.90 Z" fill="#fdfb8e"/>
<path d="M267.30,225.90 L267.30,92.80 L268.24,92.80 L268.24,92.19 L269.18,92.19 L269.18,94.15 L270.11,94.15 L270.11,95.83 L271.05,95.83 L271.05,97.78 L271.99,97.78 L271.99,98.72 L272.93,98.72 L272.93,100.74 L273.86,100.74 L273.86,102.48 L274.80,102.48 L274.80,104.12 L275.74,104.12 L275.74,105.68 L276.68,105.68 L276.68,107.67 L277.61,107.67 L277.61,108.76 L278.55,108.76 L278.55,110.66 L279.49,110.66 L279.49,112.75 L280.43,112.75 L280.43,114.56 L281.36,114.56 L281.36,115.72 L282.30,115.72 L282.30,117.67 L283.24,117.67 L283.24,119.10 L284.18,119.10 L284.18,121.28 L285.11,121.28 L285.11,122.97 L286.05,122.97 L286.05,124.31 L286.99,124.31 L286.99,126.12 L287.93,126.12 L287.93,128.45 L288.86,128.45 L288.86,129.39 L289.80,129.39 L289.80,131.71 L290.74,131.71 L290.74,133.14 L291.68,133.14 L291.68,134.58 L292.61,134.58 L292.61,136.39 L293.55,136.39 L293.55,138.85 L294.49,138.85 L294.49,140.44 L295.43,140.44 L295.43,142.12 L296.36,142.12 L296.36,143.22 L297.30,143.22 L297.30,145.46 L298.24,145.46 L298.24,147.55 L299.18,147.55 L299.18,148.56 L300.11,148.56 L300.11,150.56 L301.05,150.56 L301.05,163.02 L301.99,163.02 L301.99,154.19 L302.93,154.19 L302.93,155.58 L303.86,155.58 L303.86,157.75 L304.80,157.75 L304.80,159.93 L305.74,159.93 L305.74,161.32 L306.68,161.32 L306.68,163.48 L307.61,163.48 L307.61,171.24 L308.55,171.24 L308.55,166.54 L309.49,166.54 L309.49,168.65 L310.43,168.65 L310.43,170.62 L311.36,170.62 L311.36,171.99 L312.30,171.99 L312.30,178.93 L313.24,178.93 L313.24,175.93 L314.18,175.93 L314.18,177.27 L315.11,177.27 L315.11,187.43 L316.05,187.43 L316.05,181.79 L316.99,181.79 L316.99,183.34 L317.93,183.34 L317.93,189.76 L318.86,189.76 L318.86,187.26 L319.80,187.26 L319.80,188.28 L320.74,188.28 L320.74,190.78 L321.68,190.78 L321.68,192.03 L322.61,192.03 L322.61,194.44 L323.55,194.44 L323.55,196.06 L324.49,196.06 L324.49,210.45 L325.43,210.45 L325.43,209.95 L326.36,209.95 L326.36,215.20 L327.30,215.20 L327.30,208.42 L328.24,208.42 L328.24,215.20 L329.18,215.20 L329.18,207.28 L330.11,207.28 L330.11,220.58 L331.05,220.58 L331.05,210.90 L331.99,210.90 L331.99,222.17 L332.93,222.17 L332.93,214.93 L333.86,214.93 L333.86,216.97 L334.80,216.97 L334.80,223.66 L335.74,223.66 L335.74,224.65 L336.68,224.65 L336.68,225.90 L335.74,225.90 L335.74,225.90 L334.80,225.90 L334.80,225.90 L333.86,225.90 L333.86,225.90 L332.93,225.90 L332.93,225.90 L331.99,225.90 L331.99,225.90 L331.05,225.90 L331.05,225.90 L330.11,225.90 L330.11,225.90 L329.18,225.90 L329.18,225.90 L328.24,225.90 L328.24,225.90 L327.30,225.90 L327.30,225.90 L326.36,225.90 L326.36,225.90 L325.43,225.90 L325.43,225.90 L324.49,225.90 L324.49,225.90 L323.55,225.90 L323.55,225.90 L322.61,225.90 L322.61,225.90 L321.68,225.90 L321.68,225.90 L320.74,225.90 L320.74,225.90 L319.80,225.90 L319.80,225.90 L318.86,225.90 L318.86,225.90 L317.93,225.90 L317.93,225.90 L316.99,225.90 L316.99,225.90 L316.05,225.90 L316.05,225.90 L315.11,225.90 L315.11,225.90 L314.18,225.90 L314.18,225.90 L313.24,225.90 L313.24,225.90 L312.30,225.90 L312.30,225.90 L311.36,225.90 L311.36,225.90 L310.43,225.90 L310.43,225.90 L309.49,225.90 L309.49,225.90 L308.55,225.90 L308.55,225.90 L307.61,225.90 L307.61,225.90 L306.68,225.90 L306.68,225.90 L305.74,225.90 L305.74,225.90 L304.80,225.90 L304.80,225.90 L303.86,225.90 L303.86,225.90 L302.93,225.90 L302.93,225.90 L301.99,225.90 L301.99,225.90 L301.05,225.90 L301.05,225.90 L300.11,225.90 L300.11,225.90 L299.18,225.90 L299.18,225.90 L298.24,225.90 L298.24,225.90 L297.30,225.90 L297.30,225.90 L296.36,225.90 L296.36,225.90 L295.43,225.90 L295.43,225.90 L294.49,225.90 L294.49,225.90 L293.55,225.90 L293.55,225.90 L292.61,225.90 L292.61,225.90 L291.68,225.90 L291.68,225.90 L290.74,225.90 L290.74,225.90 L289.80,225.90 L289.80,225.90 L288.86,225.90 L288.86,225.90 L287.93,225.90 L287.93,225.90 L286.99,225.90 L286.99,225.90 L286.05,225.90 L286.05,225.90 L285.11,225.90 L285.11,225.90 L284.18,225.90 L284.18,225.90 L283.24,225.90 L283.24,225.90 L282.30,225.90 L282.30,225.90 L281.36,225.90 L281.36,225.90 L280.43,225.90 L280.43,225.90 L279.49,225.90 L279.49,225.90 L278.55,225.90 L278.55,225.90 L277.61,225.90 L277.61,225.90 L276.68,225.90 L276.68,225.90 L275.74,225.90 L275.74,225.90 L274.80,225.90 L274.80,225.90 L273.86,225.90 L273.86,225.90 L272.93,225.90 L272.93,225.90 L271.99,225.90 L271.99,225.90 L271.05,225.90 L271.05,225.90 L270.11,225.90 L270.11,225.90 L269.18,225.90 L269.18,225.90 L268.24,225.90 L268.24,225.90 L267.30,225.90 Z M337.61,225.90 L337.61,224.53 L338.55,224.53 L338.55,225.90 L337.61,225.90 Z" fill="#f8c80e"/>
<path d="M267.30,225.90 L267.30,138.58 L268.24,138.58 L268.24,139.62 L269.18,139.62 L269.18,141.03 L270.11,141.03 L270.11,142.80 L271.05,142.80 L271.05,144.97 L271.99,144.97 L271.99,146.21 L272.93,146.21 L272.93,148.87 L273.86,148.87 L273.86,149.54 L274.80,149.54 L274.80,151.36 L275.74,151.36 L275.74,153.93 L276.68,153.93 L276.68,153.78 L277.61,153.78 L277.61,155.88 L278.55,155.88 L278.55,157.64 L279.49,157.64 L279.49,159.88 L280.43,159.88 L280.43,161.65 L281.36,161.65 L281.36,163.33 L282.30,163.33 L282.30,164.88 L283.24,164.88 L283.24,166.57 L284.18,166.57 L284.18,166.10 L285.11,166.10 L285.11,167.49 L286.05,167.49 L286.05,170.06 L286.99,170.06 L286.99,175.74 L287.93,175.74 L287.93,172.45 L288.86,172.45 L288.86,183.42 L289.80,183.42 L289.80,176.62 L290.74,176.62 L290.74,177.56 L291.68,177.56 L291.68,183.30 L292.61,183.30 L292.61,183.99 L293.55,183.99 L293.55,184.56 L294.49,184.56 L294.49,185.04 L295.43,185.04 L295.43,186.81 L296.36,186.81 L296.36,189.15 L297.30,189.15 L297.30,225.90 L296.36,225.90 L296.36,225.90 L295.43,225.90 L295.43,225.90 L294.49,225.90 L294.49,225.90 L293.55,225.90 L293.55,225.90 L292.61,225.90 L292.61,225.90 L291.68,225.90 L291.68,225.90 L290.74,225.90 L290.74,225.90 L289.80,225.90 L289.80,225.90 L288.86,225.90 L288.86,225.90 L287.93,225.90 L287.93,225.90 L286.99,225.90 L286.99,225.90 L286.05,225.90 L286.05,225.90 L285.11,225.90 L285.11,225.90 L284.18,225.90 L284.18,225.90 L283.24,225.90 L283.24,225.90 L282.30,225.90 L282.30,225.90 L281.36,225.90 L281.36,225.90 L280.43,225.90 L280.43,225.90 L279.49,225.90 L279.49,225.90 L278.55,225.90 L278.55,225.90 L277.61,225.90 L277.61,225.90 L276.68,225.90 L276.68,225.90 L275.74,225.90 L275.74,225.90 L274.80,225.90 L274.80,225.90 L273.86,225.90 L273.86,225.90 L272.93,225.90 L272.93,225.90 L271.99,225.90 L271.99,225.90 L271.05,225.90 L271.05,225.90 L270.11,225.90 L270.11,225.90 L269.18,225.90 L269.18,225.90 L268.24,225.90 L268.24,225.90 L267.30,225.90 Z M298.24,225.90 L298.24,190.70 L299.18,190.70 L299.18,201.15 L300.11,201.15 L300.11,197.96 L301.05,197.96 L301.05,197.43 L301.99,197.43 L301.99,199.77 L302.93,199.77 L302.93,198.05 L303.86,198.05 L303.86,207.17 L304.80,207.17 L304.80,198.86 L305.74,198.86 L305.74,201.79 L306.68,201.79 L306.68,211.84 L307.61,211.84 L307.61,211.57 L308.55,211.57 L308.55,211.18 L309.49,211.18 L309.49,208.28 L310.43,208.28 L310.43,213.29 L311.36,213.29 L311.36,225.90 L310.43,225.90 L310.43,225.90 L309.49,225.90 L309.49,225.90 L308.55,225.90 L308.55,225.90 L307.61,225.90 L307.61,225.90 L306.68,225.90 L306.68,225.90 L305.74,225.90 L305.74,225.90 L304.80,225.90 L304.80,225.90 L303.86,225.90 L303.86,225.90 L302.93,225.90 L302.93,225.90 L301.99,225.90 L301.99,225.90 L301.05,225.90 L301.05,225.90 L300.11,225.90 L300.11,225.90 L299.18,225.90 L299.18,225.90 L298.24,225.90 Z M312.30,225.90 L312.30,220.98 L313.24,220.98 L313.24,220.87 L314.18,220.87 L314.18,225.90 L313.24,225.90 L313.24,225.90 L312.30,225.90 Z M316.99,225.90 L316.99,224.85 L317.93,224.85 L317.93,223.13 L318.86,223.13 L318.86,225.90 L317.93,225.90 L317.93,225.90 L316.99,225.90 Z M319.80,225.90 L319.80,210.78 L320.74,210.78 L320.74,225.90 L319.80,225.90 Z M321.68,225.90 L321.68,217.70 L322.61,217.70 L322.61,225.90 L321.68,225.90 Z" fill="#d82a6a"/>
<rect x="266.0" y="41.8" width="1.25" height="184.10" fill="#d82a6a"/>
<path d="M267.50,225.90 L267.50,137.40 L318.83,225.90 Z" fill="url(#hatch)"/>
<path d="M267.50,225.90 L267.50,137.40 L318.83,225.90" fill="none" stroke="#c0c0c0" stroke-width="1.0" stroke-linejoin="round"/>
<path d="M267.30,137.40 L267.30,89.00 L269.88,93.56 L272.44,98.13 L274.99,102.69 L277.53,107.25 L280.06,111.82 L282.58,116.38 L285.08,120.94 L287.57,125.51 L290.05,130.07 L292.51,134.63 L294.96,139.20 L297.40,143.76 L299.83,148.32 L302.25,152.89 L304.65,157.45 L307.04,162.01 L309.42,166.58 L311.78,171.14 L314.14,175.70 L316.48,180.27 L318.81,184.83 L321.12,189.39 L323.43,193.96 L325.72,198.52 L327.99,203.08 L330.26,207.65 L332.51,212.21 L334.76,216.77 L336.98,221.34 L339.20,225.90" fill="none" stroke="#000" stroke-width="1.5" stroke-linejoin="round"/>
<path d="M267.30,225.90 L267.30,89.00 L346.20,225.90" fill="none" stroke="#c0c0c0" stroke-width="1.5" stroke-dasharray="5.55,2.4" stroke-linejoin="round"/>
</g>
<g clip-path="url(#ax3)">
<path d="M389.40,225.90 L389.61,222.18 L389.86,218.53 L390.11,214.94 L390.37,211.41 L390.62,207.95 L390.87,204.54 L391.12,201.20 L391.37,197.92 L391.62,194.71 L391.87,191.56 L392.22,188.46 L392.65,185.44 L393.09,182.47 L393.52,179.57 L393.96,176.72 L394.39,173.95 L394.82,171.23 L395.22,168.58 L395.63,165.98 L396.03,163.46 L396.43,160.99 L396.81,158.58 L397.17,156.24 L397.53,153.96 L397.89,151.75 L398.25,149.59 L398.60,147.50 L398.96,145.47 L399.32,143.50 L399.68,141.60 L400.04,139.76 L400.40,137.98 L400.78,136.26 L401.19,134.61 L401.58,133.01 L401.97,131.48 L402.36,130.02 L402.75,128.61 L403.14,127.27 L403.53,125.99 L403.91,124.77 L404.30,123.62 L404.69,122.52 L405.08,121.49 L405.47,120.53 L405.86,119.62 L406.25,118.78 L406.64,118.00 L407.02,117.28 L407.41,116.62 L407.80,116.03 L408.19,115.50 L408.58,115.03 L408.97,114.62 L409.36,114.28 L409.75,114.00 L410.13,113.78 L410.52,113.62 L410.91,113.53 L411.30,113.50 L411.69,113.53 L412.09,113.62 L412.48,113.78 L412.87,114.00 L413.26,114.28 L413.66,114.62 L414.05,115.03 L414.44,115.50 L414.83,116.03 L415.23,116.62 L415.62,117.28 L416.01,118.00 L416.40,118.78 L416.80,119.62 L417.19,120.53 L417.58,121.49 L417.97,122.52 L418.37,123.62 L418.76,124.77 L419.15,125.99 L419.54,127.27 L419.94,128.61 L420.33,130.02 L420.72,131.48 L421.11,133.01 L421.51,134.61 L422.24,136.26 L422.82,137.98 L423.20,139.76 L423.59,141.60 L423.97,143.50 L424.36,145.47 L424.74,147.50 L425.13,149.59 L425.52,151.75 L425.90,153.96 L426.29,156.24 L426.67,158.58 L427.12,160.99 L427.65,163.46 L428.18,165.98 L428.72,168.58 L429.25,171.23 L429.77,173.95 L430.28,176.72 L430.80,179.57 L431.31,182.47 L431.83,185.44 L432.34,188.46 L432.82,191.56 L433.25,194.71 L433.69,197.92 L434.12,201.20 L434.56,204.54 L434.99,207.95 L435.43,211.41 L435.86,214.94 L436.30,218.53 L436.73,222.18 L437.10,225.90 Z" fill="#fdfb8e"/>
<path d="M402.10,225.90 L402.58,224.03 L403.06,222.25 L403.54,220.57 L404.02,218.99 L404.50,217.50 L404.98,216.11 L405.46,214.81 L405.94,213.61 L406.42,212.51 L406.90,211.50 L407.38,210.59 L407.86,209.77 L408.34,209.05 L408.82,208.43 L409.30,207.90 L409.78,207.47 L410.26,207.13 L410.74,206.89 L411.22,206.75 L411.70,206.70 L412.18,206.75 L412.66,206.89 L413.14,207.13 L413.62,207.47 L414.10,207.90 L414.58,208.43 L415.06,209.05 L415.54,209.77 L416.02,210.59 L416.50,211.50 L416.98,212.51 L417.46,213.61 L417.94,214.81 L418.42,216.11 L418.90,217.50 L419.38,218.99 L419.86,220.57 L420.34,222.25 L420.82,224.03 L421.30,225.90 Z" fill="url(#hatch)"/>
<path d="M402.10,225.90 L402.58,224.03 L403.06,222.25 L403.54,220.57 L404.02,218.99 L404.50,217.50 L404.98,216.11 L405.46,214.81 L405.94,213.61 L406.42,212.51 L406.90,211.50 L407.38,210.59 L407.86,209.77 L408.34,209.05 L408.82,208.43 L409.30,207.90 L409.78,207.47 L410.26,207.13 L410.74,206.89 L411.22,206.75 L411.70,206.70 L412.18,206.75 L412.66,206.89 L413.14,207.13 L413.62,207.47 L414.10,207.90 L414.58,208.43 L415.06,209.05 L415.54,209.77 L416.02,210.59 L416.50,211.50 L416.98,212.51 L417.46,213.61 L417.94,214.81 L418.42,216.11 L418.90,217.50 L419.38,218.99 L419.86,220.57 L420.34,222.25 L420.82,224.03 L421.30,225.90" fill="none" stroke="#c0c0c0" stroke-width="1.0" stroke-linejoin="round"/>
<path d="M389.40,225.90 L389.61,222.18 L389.86,218.53 L390.11,214.94 L390.37,211.41 L390.62,207.95 L390.87,204.54 L391.12,201.20 L391.37,197.92 L391.62,194.71 L391.87,191.56 L392.22,188.46 L392.65,185.44 L393.09,182.47 L393.52,179.57 L393.96,176.72 L394.39,173.95 L394.82,171.23 L395.22,168.58 L395.63,165.98 L396.03,163.46 L396.43,160.99 L396.81,158.58 L397.17,156.24 L397.53,153.96 L397.89,151.75 L398.25,149.59 L398.60,147.50 L398.96,145.47 L399.32,143.50 L399.68,141.60 L400.04,139.76 L400.40,137.98 L400.78,136.26 L401.19,134.61 L401.58,133.01 L401.97,131.48 L402.36,130.02 L402.75,128.61 L403.14,127.27 L403.53,125.99 L403.91,124.77 L404.30,123.62 L404.69,122.52 L405.08,121.49 L405.47,120.53 L405.86,119.62 L406.25,118.78 L406.64,118.00 L407.02,117.28 L407.41,116.62 L407.80,116.03 L408.19,115.50 L408.58,115.03 L408.97,114.62 L409.36,114.28 L409.75,114.00 L410.13,113.78 L410.52,113.62 L410.91,113.53 L411.30,113.50 L411.69,113.53 L412.09,113.62 L412.48,113.78 L412.87,114.00 L413.26,114.28 L413.66,114.62 L414.05,115.03 L414.44,115.50 L414.83,116.03 L415.23,116.62 L415.62,117.28 L416.01,118.00 L416.40,118.78 L416.80,119.62 L417.19,120.53 L417.58,121.49 L417.97,122.52 L418.37,123.62 L418.76,124.77 L419.15,125.99 L419.54,127.27 L419.94,128.61 L420.33,130.02 L420.72,131.48 L421.11,133.01 L421.51,134.61 L422.24,136.26 L422.82,137.98 L423.20,139.76 L423.59,141.60 L423.97,143.50 L424.36,145.47 L424.74,147.50 L425.13,149.59 L425.52,151.75 L425.90,153.96 L426.29,156.24 L426.67,158.58 L427.12,160.99 L427.65,163.46 L428.18,165.98 L428.72,168.58 L429.25,171.23 L429.77,173.95 L430.28,176.72 L430.80,179.57 L431.31,182.47 L431.83,185.44 L432.34,188.46 L432.82,191.56 L433.25,194.71 L433.69,197.92 L434.12,201.20 L434.56,204.54 L434.99,207.95 L435.43,211.41 L435.86,214.94 L436.30,218.53 L436.73,222.18 L437.10,225.90" fill="none" stroke="#000" stroke-width="1.5" stroke-linejoin="round"/>
<path d="M386.75,227.90 L387.16,224.12 L387.57,220.39 L387.98,216.74 L388.39,213.14 L388.80,209.61 L389.21,206.15 L389.62,202.74 L390.02,199.40 L390.43,196.13 L390.84,192.91 L391.25,189.77 L391.66,186.68 L392.07,183.66 L392.48,180.70 L392.89,177.81 L393.30,174.98 L393.71,172.21 L394.12,169.50 L394.53,166.87 L394.93,164.29 L395.34,161.78 L395.75,159.33 L396.16,156.94 L396.57,154.62 L396.98,152.36 L397.39,150.17 L397.80,148.04 L398.21,145.97 L398.62,143.97 L399.03,142.03 L399.43,140.15 L399.84,138.34 L400.25,136.59 L400.66,134.90 L401.07,133.28 L401.48,131.72 L401.89,130.23 L402.30,128.79 L402.71,127.43 L403.12,126.12 L403.53,124.88 L403.94,123.71 L404.34,122.59 L404.75,121.54 L405.16,120.56 L405.57,119.63 L405.98,118.78 L406.39,117.98 L406.80,117.25 L407.21,116.58 L407.62,115.98 L408.03,115.44 L408.44,114.96 L408.85,114.55 L409.25,114.20 L409.66,113.91 L410.07,113.69 L410.48,113.53 L410.89,113.43 L411.30,113.40 L411.71,113.43 L412.12,113.53 L412.53,113.69 L412.94,113.91 L413.35,114.20 L413.75,114.55 L414.16,114.96 L414.57,115.44 L414.98,115.98 L415.39,116.58 L415.80,117.25 L416.21,117.98 L416.62,118.78 L417.03,119.63 L417.44,120.56 L417.85,121.54 L418.26,122.59 L418.66,123.71 L419.07,124.88 L419.48,126.12 L419.89,127.43 L420.30,128.79 L420.71,130.23 L421.12,131.72 L421.53,133.28 L421.94,134.90 L422.35,136.59 L422.76,138.34 L423.17,140.15 L423.57,142.03 L423.98,143.97 L424.39,145.97 L424.80,148.04 L425.21,150.17 L425.62,152.36 L426.03,154.62 L426.44,156.94 L426.85,159.33 L427.26,161.78 L427.67,164.29 L428.07,166.87 L428.48,169.50 L428.89,172.21 L429.30,174.98 L429.71,177.81 L430.12,180.70 L430.53,183.66 L430.94,186.68 L431.35,189.77 L431.76,192.91 L432.17,196.13 L432.58,199.40 L432.98,202.74 L433.39,206.15 L433.80,209.61 L434.21,213.14 L434.62,216.74 L435.03,220.39 L435.44,224.12 L435.85,227.90" fill="none" stroke="#ff0000" stroke-width="1.5" stroke-dasharray="5.55,2.4" stroke-linejoin="round" stroke-dashoffset="3.02"/>
</g>
<rect x="305.0" y="47.2" width="47.60" height="68.00" fill="#fff"/>
<g clip-path="url(#inset)">
<path d="M314.50,115.20 L314.50,68.95 L316.40,68.95 L316.40,68.97 L318.30,68.97 L318.30,68.59 L320.20,68.59 L320.20,68.87 L322.10,68.87 L322.10,68.92 L324.00,68.92 L324.00,68.61 L325.90,68.61 L325.90,69.05 L327.80,69.05 L327.80,69.09 L329.70,69.09 L329.70,68.72 L331.60,68.72 L331.60,68.62 L333.50,68.62 L333.50,69.19 L335.40,69.19 L335.40,68.62 L337.30,68.62 L337.30,68.26 L339.20,68.26 L339.20,68.98 L341.10,68.98 L341.10,68.78 L343.00,68.78 L343.00,68.38 L344.90,68.38 L344.90,68.79 L346.80,68.79 L346.80,68.37 L348.70,68.37 L348.70,68.75 L350.60,68.75 L350.60,68.46 L352.50,68.46 L352.50,115.20 L350.60,115.20 L350.60,115.20 L348.70,115.20 L348.70,115.20 L346.80,115.20 L346.80,115.20 L344.90,115.20 L344.90,115.20 L343.00,115.20 L343.00,115.20 L341.10,115.20 L341.10,115.20 L339.20,115.20 L339.20,115.20 L337.30,115.20 L337.30,115.20 L335.40,115.20 L335.40,115.20 L333.50,115.20 L333.50,115.20 L331.60,115.20 L331.60,115.20 L329.70,115.20 L329.70,115.20 L327.80,115.20 L327.80,115.20 L325.90,115.20 L325.90,115.20 L324.00,115.20 L324.00,115.20 L322.10,115.20 L322.10,115.20 L320.20,115.20 L320.20,115.20 L318.30,115.20 L318.30,115.20 L316.40,115.20 L316.40,115.20 L314.50,115.20 Z" fill="#f8c80e"/>
<path d="M314.50,115.20 L314.50,84.08 L316.40,84.08 L316.40,85.02 L318.30,85.02 L318.30,84.84 L320.20,84.84 L320.20,84.99 L322.10,84.99 L322.10,85.21 L324.00,85.21 L324.00,85.33 L325.90,85.33 L325.90,85.31 L327.80,85.31 L327.80,85.46 L329.70,85.46 L329.70,85.21 L331.60,85.21 L331.60,87.90 L333.50,87.90 L333.50,83.83 L335.40,83.83 L335.40,84.79 L337.30,84.79 L337.30,87.60 L339.20,87.60 L339.20,87.10 L341.10,87.10 L341.10,87.13 L343.00,87.13 L343.00,83.06 L344.90,83.06 L344.90,83.59 L346.80,83.59 L346.80,85.26 L348.70,85.26 L348.70,85.32 L350.60,85.32 L350.60,85.39 L352.50,85.39 L352.50,115.20 L350.60,115.20 L350.60,115.20 L348.70,115.20 L348.70,115.20 L346.80,115.20 L346.80,115.20 L344.90,115.20 L344.90,115.20 L343.00,115.20 L343.00,115.20 L341.10,115.20 L341.10,115.20 L339.20,115.20 L339.20,115.20 L337.30,115.20 L337.30,115.20 L335.40,115.20 L335.40,115.20 L333.50,115.20 L333.50,115.20 L331.60,115.20 L331.60,115.20 L329.70,115.20 L329.70,115.20 L327.80,115.20 L327.80,115.20 L325.90,115.20 L325.90,115.20 L324.00,115.20 L324.00,115.20 L322.10,115.20 L322.10,115.20 L320.20,115.20 L320.20,115.20 L318.30,115.20 L318.30,115.20 L316.40,115.20 L316.40,115.20 L314.50,115.20 Z" fill="#d82a6a"/>
<rect x="313.3" y="47.2" width="1.5" height="68.00" fill="#d81b60"/>
<rect x="314.5" y="85" width="38.10" height="30.20" fill="url(#hatch)"/>
<path d="M314.50,115.20 L314.50,85.00 L352.60,85.00" fill="none" stroke="#c0c0c0" stroke-width="1.0" stroke-linejoin="round"/>
<path d="M314.50,85.00 L314.50,68.30 L352.60,68.80" fill="none" stroke="#000" stroke-width="1.5" stroke-linejoin="round"/>
<path d="M314.50,115.20 L314.50,68.30 L352.60,68.80" fill="none" stroke="#c0c0c0" stroke-width="1.5" stroke-dasharray="5.55,2.4" stroke-linejoin="round"/>
</g>
<rect x="305.0" y="47.2" width="47.60" height="68.00" fill="none" stroke="#000" stroke-width="0.8"/>
<line x1="52.5" y1="213.99" x2="54.5" y2="213.99" stroke="#000" stroke-width="0.6"/>
<line x1="52.5" y1="205.79" x2="54.5" y2="205.79" stroke="#000" stroke-width="0.6"/>
<line x1="52.5" y1="199.97" x2="54.5" y2="199.97" stroke="#000" stroke-width="0.6"/>
<line x1="52.5" y1="195.46" x2="54.5" y2="195.46" stroke="#000" stroke-width="0.6"/>
<line x1="52.5" y1="191.78" x2="54.5" y2="191.78" stroke="#000" stroke-width="0.6"/>
<line x1="52.5" y1="188.66" x2="54.5" y2="188.66" stroke="#000" stroke-width="0.6"/>
<line x1="52.5" y1="185.96" x2="54.5" y2="185.96" stroke="#000" stroke-width="0.6"/>
<line x1="52.5" y1="183.58" x2="54.5" y2="183.58" stroke="#000" stroke-width="0.6"/>
<line x1="51.0" y1="181.45" x2="54.5" y2="181.45" stroke="#000" stroke-width="0.8"/>
<line x1="52.5" y1="167.44" x2="54.5" y2="167.44" stroke="#000" stroke-width="0.6"/>
<line x1="52.5" y1="159.24" x2="54.5" y2="159.24" stroke="#000" stroke-width="0.6"/>
<line x1="52.5" y1="153.42" x2="54.5" y2="153.42" stroke="#000" stroke-width="0.6"/>
<line x1="52.5" y1="148.91" x2="54.5" y2="148.91" stroke="#000" stroke-width="0.6"/>
<line x1="52.5" y1="145.23" x2="54.5" y2="145.23" stroke="#000" stroke-width="0.6"/>
<line x1="52.5" y1="142.11" x2="54.5" y2="142.11" stroke="#000" stroke-width="0.6"/>
<line x1="52.5" y1="139.41" x2="54.5" y2="139.41" stroke="#000" stroke-width="0.6"/>
<line x1="52.5" y1="137.03" x2="54.5" y2="137.03" stroke="#000" stroke-width="0.6"/>
<line x1="51.0" y1="134.90" x2="54.5" y2="134.90" stroke="#000" stroke-width="0.8"/>
<line x1="52.5" y1="120.89" x2="54.5" y2="120.89" stroke="#000" stroke-width="0.6"/>
<line x1="52.5" y1="112.69" x2="54.5" y2="112.69" stroke="#000" stroke-width="0.6"/>
<line x1="52.5" y1="106.87" x2="54.5" y2="106.87" stroke="#000" stroke-width="0.6"/>
<line x1="52.5" y1="102.36" x2="54.5" y2="102.36" stroke="#000" stroke-width="0.6"/>
<line x1="52.5" y1="98.68" x2="54.5" y2="98.68" stroke="#000" stroke-width="0.6"/>
<line x1="52.5" y1="95.56" x2="54.5" y2="95.56" stroke="#000" stroke-width="0.6"/>
<line x1="52.5" y1="92.86" x2="54.5" y2="92.86" stroke="#000" stroke-width="0.6"/>
<line x1="52.5" y1="90.48" x2="54.5" y2="90.48" stroke="#000" stroke-width="0.6"/>
<line x1="51.0" y1="88.35" x2="54.5" y2="88.35" stroke="#000" stroke-width="0.8"/>
<line x1="52.5" y1="74.34" x2="54.5" y2="74.34" stroke="#000" stroke-width="0.6"/>
<line x1="52.5" y1="66.14" x2="54.5" y2="66.14" stroke="#000" stroke-width="0.6"/>
<line x1="52.5" y1="60.32" x2="54.5" y2="60.32" stroke="#000" stroke-width="0.6"/>
<line x1="52.5" y1="55.81" x2="54.5" y2="55.81" stroke="#000" stroke-width="0.6"/>
<line x1="52.5" y1="52.13" x2="54.5" y2="52.13" stroke="#000" stroke-width="0.6"/>
<line x1="52.5" y1="49.01" x2="54.5" y2="49.01" stroke="#000" stroke-width="0.6"/>
<line x1="52.5" y1="46.31" x2="54.5" y2="46.31" stroke="#000" stroke-width="0.6"/>
<line x1="52.5" y1="43.93" x2="54.5" y2="43.93" stroke="#000" stroke-width="0.6"/>
<line x1="51.0" y1="41.80" x2="54.5" y2="41.80" stroke="#000" stroke-width="0.8"/>
<line x1="155.0" y1="213.99" x2="157.0" y2="213.99" stroke="#000" stroke-width="0.6"/>
<line x1="155.0" y1="205.79" x2="157.0" y2="205.79" stroke="#000" stroke-width="0.6"/>
<line x1="155.0" y1="199.97" x2="157.0" y2="199.97" stroke="#000" stroke-width="0.6"/>
<line x1="155.0" y1="195.46" x2="157.0" y2="195.46" stroke="#000" stroke-width="0.6"/>
<line x1="155.0" y1="191.78" x2="157.0" y2="191.78" stroke="#000" stroke-width="0.6"/>
<line x1="155.0" y1="188.66" x2="157.0" y2="188.66" stroke="#000" stroke-width="0.6"/>
<line x1="155.0" y1="185.96" x2="157.0" y2="185.96" stroke="#000" stroke-width="0.6"/>
<line x1="155.0" y1="183.58" x2="157.0" y2="183.58" stroke="#000" stroke-width="0.6"/>
<line x1="153.5" y1="181.45" x2="157.0" y2="181.45" stroke="#000" stroke-width="0.8"/>
<line x1="155.0" y1="167.44" x2="157.0" y2="167.44" stroke="#000" stroke-width="0.6"/>
<line x1="155.0" y1="159.24" x2="157.0" y2="159.24" stroke="#000" stroke-width="0.6"/>
<line x1="155.0" y1="153.42" x2="157.0" y2="153.42" stroke="#000" stroke-width="0.6"/>
<line x1="155.0" y1="148.91" x2="157.0" y2="148.91" stroke="#000" stroke-width="0.6"/>
<line x1="155.0" y1="145.23" x2="157.0" y2="145.23" stroke="#000" stroke-width="0.6"/>
<line x1="155.0" y1="142.11" x2="157.0" y2="142.11" stroke="#000" stroke-width="0.6"/>
<line x1="155.0" y1="139.41" x2="157.0" y2="139.41" stroke="#000" stroke-width="0.6"/>
<line x1="155.0" y1="137.03" x2="157.0" y2="137.03" stroke="#000" stroke-width="0.6"/>
<line x1="153.5" y1="134.90" x2="157.0" y2="134.90" stroke="#000" stroke-width="0.8"/>
<line x1="155.0" y1="120.89" x2="157.0" y2="120.89" stroke="#000" stroke-width="0.6"/>
<line x1="155.0" y1="112.69" x2="157.0" y2="112.69" stroke="#000" stroke-width="0.6"/>
<line x1="155.0" y1="106.87" x2="157.0" y2="106.87" stroke="#000" stroke-width="0.6"/>
<line x1="155.0" y1="102.36" x2="157.0" y2="102.36" stroke="#000" stroke-width="0.6"/>
<line x1="155.0" y1="98.68" x2="157.0" y2="98.68" stroke="#000" stroke-width="0.6"/>
<line x1="155.0" y1="95.56" x2="157.0" y2="95.56" stroke="#000" stroke-width="0.6"/>
<line x1="155.0" y1="92.86" x2="157.0" y2="92.86" stroke="#000" stroke-width="0.6"/>
<line x1="155.0" y1="90.48" x2="157.0" y2="90.48" stroke="#000" stroke-width="0.6"/>
<line x1="153.5" y1="88.35" x2="157.0" y2="88.35" stroke="#000" stroke-width="0.8"/>
<line x1="155.0" y1="74.34" x2="157.0" y2="74.34" stroke="#000" stroke-width="0.6"/>
<line x1="155.0" y1="66.14" x2="157.0" y2="66.14" stroke="#000" stroke-width="0.6"/>
<line x1="155.0" y1="60.32" x2="157.0" y2="60.32" stroke="#000" stroke-width="0.6"/>
<line x1="155.0" y1="55.81" x2="157.0" y2="55.81" stroke="#000" stroke-width="0.6"/>
<line x1="155.0" y1="52.13" x2="157.0" y2="52.13" stroke="#000" stroke-width="0.6"/>
<line x1="155.0" y1="49.01" x2="157.0" y2="49.01" stroke="#000" stroke-width="0.6"/>
<line x1="155.0" y1="46.31" x2="157.0" y2="46.31" stroke="#000" stroke-width="0.6"/>
<line x1="155.0" y1="43.93" x2="157.0" y2="43.93" stroke="#000" stroke-width="0.6"/>
<line x1="153.5" y1="41.80" x2="157.0" y2="41.80" stroke="#000" stroke-width="0.8"/>
<line x1="257.0" y1="213.99" x2="259.0" y2="213.99" stroke="#000" stroke-width="0.6"/>
<line x1="257.0" y1="205.79" x2="259.0" y2="205.79" stroke="#000" stroke-width="0.6"/>
<line x1="257.0" y1="199.97" x2="259.0" y2="199.97" stroke="#000" stroke-width="0.6"/>
<line x1="257.0" y1="195.46" x2="259.0" y2="195.46" stroke="#000" stroke-width="0.6"/>
<line x1="257.0" y1="191.78" x2="259.0" y2="191.78" stroke="#000" stroke-width="0.6"/>
<line x1="257.0" y1="188.66" x2="259.0" y2="188.66" stroke="#000" stroke-width="0.6"/>
<line x1="257.0" y1="185.96" x2="259.0" y2="185.96" stroke="#000" stroke-width="0.6"/>
<line x1="257.0" y1="183.58" x2="259.0" y2="183.58" stroke="#000" stroke-width="0.6"/>
<line x1="255.5" y1="181.45" x2="259.0" y2="181.45" stroke="#000" stroke-width="0.8"/>
<line x1="257.0" y1="167.44" x2="259.0" y2="167.44" stroke="#000" stroke-width="0.6"/>
<line x1="257.0" y1="159.24" x2="259.0" y2="159.24" stroke="#000" stroke-width="0.6"/>
<line x1="257.0" y1="153.42" x2="259.0" y2="153.42" stroke="#000" stroke-width="0.6"/>
<line x1="257.0" y1="148.91" x2="259.0" y2="148.91" stroke="#000" stroke-width="0.6"/>
<line x1="257.0" y1="145.23" x2="259.0" y2="145.23" stroke="#000" stroke-width="0.6"/>
<line x1="257.0" y1="142.11" x2="259.0" y2="142.11" stroke="#000" stroke-width="0.6"/>
<line x1="257.0" y1="139.41" x2="259.0" y2="139.41" stroke="#000" stroke-width="0.6"/>
<line x1="257.0" y1="137.03" x2="259.0" y2="137.03" stroke="#000" stroke-width="0.6"/>
<line x1="255.5" y1="134.90" x2="259.0" y2="134.90" stroke="#000" stroke-width="0.8"/>
<line x1="257.0" y1="120.89" x2="259.0" y2="120.89" stroke="#000" stroke-width="0.6"/>
<line x1="257.0" y1="112.69" x2="259.0" y2="112.69" stroke="#000" stroke-width="0.6"/>
<line x1="257.0" y1="106.87" x2="259.0" y2="106.87" stroke="#000" stroke-width="0.6"/>
<line x1="257.0" y1="102.36" x2="259.0" y2="102.36" stroke="#000" stroke-width="0.6"/>
<line x1="257.0" y1="98.68" x2="259.0" y2="98.68" stroke="#000" stroke-width="0.6"/>
<line x1="257.0" y1="95.56" x2="259.0" y2="95.56" stroke="#000" stroke-width="0.6"/>
<line x1="257.0" y1="92.86" x2="259.0" y2="92.86" stroke="#000" stroke-width="0.6"/>
<line x1="257.0" y1="90.48" x2="259.0" y2="90.48" stroke="#000" stroke-width="0.6"/>
<line x1="255.5" y1="88.35" x2="259.0" y2="88.35" stroke="#000" stroke-width="0.8"/>
<line x1="257.0" y1="74.34" x2="259.0" y2="74.34" stroke="#000" stroke-width="0.6"/>
<line x1="257.0" y1="66.14" x2="259.0" y2="66.14" stroke="#000" stroke-width="0.6"/>
<line x1="257.0" y1="60.32" x2="259.0" y2="60.32" stroke="#000" stroke-width="0.6"/>
<line x1="257.0" y1="55.81" x2="259.0" y2="55.81" stroke="#000" stroke-width="0.6"/>
<line x1="257.0" y1="52.13" x2="259.0" y2="52.13" stroke="#000" stroke-width="0.6"/>
<line x1="257.0" y1="49.01" x2="259.0" y2="49.01" stroke="#000" stroke-width="0.6"/>
<line x1="257.0" y1="46.31" x2="259.0" y2="46.31" stroke="#000" stroke-width="0.6"/>
<line x1="257.0" y1="43.93" x2="259.0" y2="43.93" stroke="#000" stroke-width="0.6"/>
<line x1="255.5" y1="41.80" x2="259.0" y2="41.80" stroke="#000" stroke-width="0.8"/>
<line x1="359.1" y1="213.99" x2="361.1" y2="213.99" stroke="#000" stroke-width="0.6"/>
<line x1="359.1" y1="205.79" x2="361.1" y2="205.79" stroke="#000" stroke-width="0.6"/>
<line x1="359.1" y1="199.97" x2="361.1" y2="199.97" stroke="#000" stroke-width="0.6"/>
<line x1="359.1" y1="195.46" x2="361.1" y2="195.46" stroke="#000" stroke-width="0.6"/>
<line x1="359.1" y1="191.78" x2="361.1" y2="191.78" stroke="#000" stroke-width="0.6"/>
<line x1="359.1" y1="188.66" x2="361.1" y2="188.66" stroke="#000" stroke-width="0.6"/>
<line x1="359.1" y1="185.96" x2="361.1" y2="185.96" stroke="#000" stroke-width="0.6"/>
<line x1="359.1" y1="183.58" x2="361.1" y2="183.58" stroke="#000" stroke-width="0.6"/>
<line x1="357.6" y1="181.45" x2="361.1" y2="181.45" stroke="#000" stroke-width="0.8"/>
<line x1="359.1" y1="167.44" x2="361.1" y2="167.44" stroke="#000" stroke-width="0.6"/>
<line x1="359.1" y1="159.24" x2="361.1" y2="159.24" stroke="#000" stroke-width="0.6"/>
<line x1="359.1" y1="153.42" x2="361.1" y2="153.42" stroke="#000" stroke-width="0.6"/>
<line x1="359.1" y1="148.91" x2="361.1" y2="148.91" stroke="#000" stroke-width="0.6"/>
<line x1="359.1" y1="145.23" x2="361.1" y2="145.23" stroke="#000" stroke-width="0.6"/>
<line x1="359.1" y1="142.11" x2="361.1" y2="142.11" stroke="#000" stroke-width="0.6"/>
<line x1="359.1" y1="139.41" x2="361.1" y2="139.41" stroke="#000" stroke-width="0.6"/>
<line x1="359.1" y1="137.03" x2="361.1" y2="137.03" stroke="#000" stroke-width="0.6"/>
<line x1="357.6" y1="134.90" x2="361.1" y2="134.90" stroke="#000" stroke-width="0.8"/>
<line x1="359.1" y1="120.89" x2="361.1" y2="120.89" stroke="#000" stroke-width="0.6"/>
<line x1="359.1" y1="112.69" x2="361.1" y2="112.69" stroke="#000" stroke-width="0.6"/>
<line x1="359.1" y1="106.87" x2="361.1" y2="106.87" stroke="#000" stroke-width="0.6"/>
<line x1="359.1" y1="102.36" x2="361.1" y2="102.36" stroke="#000" stroke-width="0.6"/>
<line x1="359.1" y1="98.68" x2="361.1" y2="98.68" stroke="#000" stroke-width="0.6"/>
<line x1="359.1" y1="95.56" x2="361.1" y2="95.56" stroke="#000" stroke-width="0.6"/>
<line x1="359.1" y1="92.86" x2="361.1" y2="92.86" stroke="#000" stroke-width="0.6"/>
<line x1="359.1" y1="90.48" x2="361.1" y2="90.48" stroke="#000" stroke-width="0.6"/>
<line x1="357.6" y1="88.35" x2="361.1" y2="88.35" stroke="#000" stroke-width="0.8"/>
<line x1="359.1" y1="74.34" x2="361.1" y2="74.34" stroke="#000" stroke-width="0.6"/>
<line x1="359.1" y1="66.14" x2="361.1" y2="66.14" stroke="#000" stroke-width="0.6"/>
<line x1="359.1" y1="60.32" x2="361.1" y2="60.32" stroke="#000" stroke-width="0.6"/>
<line x1="359.1" y1="55.81" x2="361.1" y2="55.81" stroke="#000" stroke-width="0.6"/>
<line x1="359.1" y1="52.13" x2="361.1" y2="52.13" stroke="#000" stroke-width="0.6"/>
<line x1="359.1" y1="49.01" x2="361.1" y2="49.01" stroke="#000" stroke-width="0.6"/>
<line x1="359.1" y1="46.31" x2="361.1" y2="46.31" stroke="#000" stroke-width="0.6"/>
<line x1="359.1" y1="43.93" x2="361.1" y2="43.93" stroke="#000" stroke-width="0.6"/>
<line x1="357.6" y1="41.80" x2="361.1" y2="41.80" stroke="#000" stroke-width="0.8"/>
<line x1="54.5" y1="41.7" x2="54.5" y2="226.3" stroke="#000" stroke-width="0.8"/>
<line x1="157.0" y1="41.7" x2="157.0" y2="226.3" stroke="#000" stroke-width="0.8"/>
<line x1="259.0" y1="41.7" x2="259.0" y2="226.3" stroke="#000" stroke-width="0.8"/>
<line x1="361.1" y1="41.7" x2="361.1" y2="226.3" stroke="#000" stroke-width="0.8"/>
<line x1="463.1" y1="41.7" x2="463.1" y2="226.3" stroke="#000" stroke-width="0.8"/>
<line x1="54.1" y1="42.1" x2="463.5" y2="42.1" stroke="#000" stroke-width="0.8"/>
<line x1="54.1" y1="225.9" x2="463.5" y2="225.9" stroke="#000" stroke-width="0.8"/>
<line x1="79.80" y1="225.9" x2="79.80" y2="229.4" stroke="#000" stroke-width="0.8"/>
<text transform="translate(71.14 242.36) scale(1.016 1)" font-size="11.66" fill="#000">0</text><text transform="translate(78.10 242.36) scale(1.043 1)" font-size="11.66" fill="#000">.</text><text transform="translate(81.86 242.36) scale(1.016 1)" font-size="11.66" fill="#000">0</text>
<line x1="131.40" y1="225.9" x2="131.40" y2="229.4" stroke="#000" stroke-width="0.8"/>
<text transform="translate(122.74 242.36) scale(1.016 1)" font-size="11.66" fill="#000">0</text><text transform="translate(129.70 242.36) scale(1.043 1)" font-size="11.66" fill="#000">.</text><text transform="translate(133.44 242.36) scale(0.980 1)" font-size="11.66" fill="#000">2</text>
<text transform="translate(100.18 256.62) scale(1.060 1)" font-size="11.66" font-style="italic" fill="#000">x</text>
<line x1="166.50" y1="225.9" x2="166.50" y2="229.4" stroke="#000" stroke-width="0.8"/>
<text transform="translate(163.20 242.36) scale(1.016 1)" font-size="11.66" fill="#000">0</text>
<line x1="232.60" y1="225.9" x2="232.60" y2="229.4" stroke="#000" stroke-width="0.8"/>
<text transform="translate(225.82 242.36) scale(0.971 1)" font-size="11.66" fill="#000">1</text><text transform="translate(232.88 242.36) scale(1.016 1)" font-size="11.66" fill="#000">0</text>
<text transform="translate(202.28 256.62) scale(1.060 1)" font-size="11.66" font-style="italic" fill="#000">x</text>
<line x1="267.00" y1="225.9" x2="267.00" y2="229.4" stroke="#000" stroke-width="0.8"/>
<text transform="translate(263.70 242.36) scale(1.016 1)" font-size="11.66" fill="#000">0</text>
<line x1="325.60" y1="225.9" x2="325.60" y2="229.4" stroke="#000" stroke-width="0.8"/>
<text transform="translate(315.29 242.36) scale(0.959 1)" font-size="11.66" fill="#000">5</text><text transform="translate(322.30 242.36) scale(1.016 1)" font-size="11.66" fill="#000">0</text><text transform="translate(329.45 242.36) scale(1.016 1)" font-size="11.66" fill="#000">0</text>
<text transform="translate(304.43 256.62) scale(1.060 1)" font-size="11.66" font-style="italic" fill="#000">x</text>
<line x1="360.90" y1="225.9" x2="360.90" y2="229.4" stroke="#000" stroke-width="0.8"/>
<text transform="translate(357.60 242.36) scale(1.016 1)" font-size="11.66" fill="#000">0</text>
<line x1="411.95" y1="225.9" x2="411.95" y2="229.4" stroke="#000" stroke-width="0.8"/>
<text transform="translate(394.44 242.36) scale(0.971 1)" font-size="11.66" fill="#000">1</text><text transform="translate(401.50 242.36) scale(1.016 1)" font-size="11.66" fill="#000">0</text><text transform="translate(408.65 242.36) scale(1.016 1)" font-size="11.66" fill="#000">0</text><text transform="translate(415.80 242.36) scale(1.016 1)" font-size="11.66" fill="#000">0</text><text transform="translate(422.96 242.36) scale(1.016 1)" font-size="11.66" fill="#000">0</text>
<line x1="463.00" y1="225.9" x2="463.00" y2="229.4" stroke="#000" stroke-width="0.8"/>
<text transform="translate(445.37 242.36) scale(0.980 1)" font-size="11.66" fill="#000">2</text><text transform="translate(452.55 242.36) scale(1.016 1)" font-size="11.66" fill="#000">0</text><text transform="translate(459.70 242.36) scale(1.016 1)" font-size="11.66" fill="#000">0</text><text transform="translate(466.85 242.36) scale(1.016 1)" font-size="11.66" fill="#000">0</text><text transform="translate(474.01 242.36) scale(1.016 1)" font-size="11.66" fill="#000">0</text>
<text transform="translate(406.58 256.62) scale(1.060 1)" font-size="11.66" font-style="italic" fill="#000">x</text>
<line x1="301.5" y1="52.4" x2="305.0" y2="52.4" stroke="#000" stroke-width="0.8"/>
<text transform="translate(270.80 56.80) scale(0.971 1)" font-size="11.66" fill="#000">1</text>
<text transform="translate(277.86 56.80) scale(1.016 1)" font-size="11.66" fill="#000">0</text>
<text transform="translate(285.17 52.59) scale(1.242 1)" font-size="8.16" fill="#000">−</text>
<text transform="translate(291.61 52.59) scale(0.980 1)" font-size="8.16" fill="#000">2</text>
<line x1="301.5" y1="84.4" x2="305.0" y2="84.4" stroke="#000" stroke-width="0.8"/>
<text transform="translate(270.80 88.80) scale(0.971 1)" font-size="11.66" fill="#000">1</text>
<text transform="translate(277.86 88.80) scale(1.016 1)" font-size="11.66" fill="#000">0</text>
<text transform="translate(285.17 84.59) scale(1.242 1)" font-size="8.16" fill="#000">−</text>
<text transform="translate(291.63 84.59) scale(1.016 1)" font-size="8.16" fill="#000">4</text>
<line x1="314.5" y1="115.2" x2="314.5" y2="118.7" stroke="#000" stroke-width="0.8"/>
<text transform="translate(311.20 132.26) scale(1.016 1)" font-size="11.66" fill="#000">0</text>
<line x1="352.6" y1="115.2" x2="352.6" y2="118.7" stroke="#000" stroke-width="0.8"/>
<text transform="translate(345.70 132.26) scale(0.980 1)" font-size="11.66" fill="#000">2</text><text transform="translate(352.88 132.26) scale(1.016 1)" font-size="11.66" fill="#000">0</text>
<text transform="translate(20.30 46.20) scale(0.971 1)" font-size="11.66" fill="#000">1</text>
<text transform="translate(27.36 46.20) scale(1.016 1)" font-size="11.66" fill="#000">0</text>
<text transform="translate(34.67 41.99) scale(1.242 1)" font-size="8.16" fill="#000">−</text>
<text transform="translate(41.11 41.99) scale(0.980 1)" font-size="8.16" fill="#000">2</text>
<text transform="translate(20.30 92.75) scale(0.971 1)" font-size="11.66" fill="#000">1</text>
<text transform="translate(27.36 92.75) scale(1.016 1)" font-size="11.66" fill="#000">0</text>
<text transform="translate(34.67 88.54) scale(1.242 1)" font-size="8.16" fill="#000">−</text>
<text transform="translate(41.23 88.54) scale(0.976 1)" font-size="8.16" fill="#000">3</text>
<text transform="translate(20.30 139.30) scale(0.971 1)" font-size="11.66" fill="#000">1</text>
<text transform="translate(27.36 139.30) scale(1.016 1)" font-size="11.66" fill="#000">0</text>
<text transform="translate(34.67 135.09) scale(1.242 1)" font-size="8.16" fill="#000">−</text>
<text transform="translate(41.13 135.09) scale(1.016 1)" font-size="8.16" fill="#000">4</text>
<text transform="translate(20.30 185.85) scale(0.971 1)" font-size="11.66" fill="#000">1</text>
<text transform="translate(27.36 185.85) scale(1.016 1)" font-size="11.66" fill="#000">0</text>
<text transform="translate(34.67 181.64) scale(1.242 1)" font-size="8.16" fill="#000">−</text>
<text transform="translate(41.23 181.64) scale(0.959 1)" font-size="8.16" fill="#000">5</text>
<g transform="translate(13.8 133.8) rotate(-90)"><text transform="translate(-75.77 0.00) scale(0.924 1)" font-size="11.66" fill="#000">s</text><text transform="translate(-70.15 0.00) scale(1.289 1)" font-size="11.66" fill="#000">t</text><text transform="translate(-65.57 0.00) scale(0.867 1)" font-size="11.66" fill="#000">a</text><text transform="translate(-58.79 0.00) scale(0.967 1)" font-size="11.66" fill="#000">c</text><text transform="translate(-52.57 0.00) scale(1.078 1)" font-size="11.66" fill="#000">k</text><text transform="translate(-46.13 0.00) scale(1.041 1)" font-size="11.66" fill="#000">e</text><text transform="translate(-39.61 0.00) scale(1.048 1)" font-size="11.66" fill="#000">d</text><text transform="translate(-28.78 0.00) scale(1.049 1)" font-size="11.66" fill="#000">p</text><text transform="translate(-21.76 0.00) scale(1.025 1)" font-size="11.66" fill="#000">o</text><text transform="translate(-14.69 0.00) scale(0.924 1)" font-size="11.66" fill="#000">s</text><text transform="translate(-8.85 0.00) scale(0.986 1)" font-size="11.66" fill="#000">i</text><text transform="translate(-5.94 0.00) scale(1.289 1)" font-size="11.66" fill="#000">t</text><text transform="translate(-1.32 0.00) scale(0.986 1)" font-size="11.66" fill="#000">i</text><text transform="translate(1.63 0.00) scale(1.025 1)" font-size="11.66" fill="#000">o</text><text transform="translate(8.61 0.00) scale(1.040 1)" font-size="11.66" fill="#000">n</text><text transform="translate(19.27 0.00) scale(1.047 1)" font-size="11.66" fill="#000">h</text><text transform="translate(26.51 0.00) scale(0.986 1)" font-size="11.66" fill="#000">i</text><text transform="translate(29.65 0.00) scale(0.924 1)" font-size="11.66" fill="#000">s</text><text transform="translate(35.27 0.00) scale(1.289 1)" font-size="11.66" fill="#000">t</text><text transform="translate(39.72 0.00) scale(1.025 1)" font-size="11.66" fill="#000">o</text><text transform="translate(46.59 0.00) scale(1.048 1)" font-size="11.66" fill="#000">g</text><text transform="translate(53.68 0.00) scale(1.235 1)" font-size="11.66" fill="#000">r</text><text transform="translate(58.49 0.00) scale(0.867 1)" font-size="11.66" fill="#000">a</text><text transform="translate(65.30 0.00) scale(1.099 1)" font-size="11.66" fill="#000">m</text></g>
<text transform="translate(78.51 35.00) scale(1.296 1)" font-size="13.99" font-style="italic" fill="#000">t</text>
<text transform="translate(87.00 35.00) scale(1.242 1)" font-size="13.99" fill="#000">=</text>
<text transform="translate(100.85 35.00) scale(0.971 1)" font-size="13.99" fill="#000">1</text>
<text transform="translate(109.35 35.00) scale(1.016 1)" font-size="13.99" fill="#000">0</text>
<text transform="translate(118.16 30.02) scale(1.242 1)" font-size="9.79" fill="#000">−</text>
<text transform="translate(126.06 30.02) scale(0.976 1)" font-size="9.79" fill="#000">3</text>
<text transform="translate(185.72 35.00) scale(1.296 1)" font-size="13.99" font-style="italic" fill="#000">t</text>
<text transform="translate(194.21 35.00) scale(1.242 1)" font-size="13.99" fill="#000">=</text>
<text transform="translate(207.94 35.00) scale(1.016 1)" font-size="13.99" fill="#000">0</text>
<text transform="translate(216.33 35.00) scale(1.043 1)" font-size="13.99" fill="#000">.</text>
<text transform="translate(220.98 35.00) scale(0.971 1)" font-size="13.99" fill="#000">1</text>
<text transform="translate(289.91 35.00) scale(1.296 1)" font-size="13.99" font-style="italic" fill="#000">t</text>
<text transform="translate(298.40 35.00) scale(1.242 1)" font-size="13.99" fill="#000">=</text>
<text transform="translate(312.25 35.00) scale(0.971 1)" font-size="13.99" fill="#000">1</text>
<text transform="translate(320.75 35.00) scale(1.016 1)" font-size="13.99" fill="#000">0</text>
<text transform="translate(388.99 35.00) scale(1.296 1)" font-size="13.99" font-style="italic" fill="#000">t</text>
<text transform="translate(397.48 35.00) scale(1.242 1)" font-size="13.99" fill="#000">=</text>
<text transform="translate(411.33 35.00) scale(0.971 1)" font-size="13.99" fill="#000">1</text>
<text transform="translate(419.84 35.00) scale(1.016 1)" font-size="13.99" fill="#000">0</text>
<text transform="translate(428.48 30.02) scale(1.016 1)" font-size="9.79" fill="#000">4</text>
<text transform="translate(194.11 15.70) scale(1.020 1)" font-size="13.99" fill="#000">I</text><text transform="translate(198.34 15.70) scale(1.040 1)" font-size="13.99" fill="#000">n</text><text transform="translate(206.98 15.70) scale(0.986 1)" font-size="13.99" fill="#000">i</text><text transform="translate(210.47 15.70) scale(1.289 1)" font-size="13.99" fill="#000">t</text><text transform="translate(216.02 15.70) scale(0.986 1)" font-size="13.99" fill="#000">i</text><text transform="translate(219.71 15.70) scale(0.867 1)" font-size="13.99" fill="#000">a</text><text transform="translate(228.03 15.70) scale(0.986 1)" font-size="13.99" fill="#000">l</text><text transform="translate(231.78 15.70) scale(0.986 1)" font-size="13.99" fill="#000">l</text><text transform="translate(235.55 15.70) scale(1.035 1)" font-size="13.99" fill="#000">y</text><text transform="translate(247.80 15.70) scale(0.986 1)" font-size="13.99" fill="#000">i</text><text transform="translate(251.41 15.70) scale(1.099 1)" font-size="13.99" fill="#000">m</text><text transform="translate(264.55 15.70) scale(1.099 1)" font-size="13.99" fill="#000">m</text><text transform="translate(277.63 15.70) scale(1.025 1)" font-size="13.99" fill="#000">o</text><text transform="translate(286.02 15.70) scale(1.049 1)" font-size="13.99" fill="#000">b</text><text transform="translate(294.65 15.70) scale(0.986 1)" font-size="13.99" fill="#000">i</text><text transform="translate(298.39 15.70) scale(0.986 1)" font-size="13.99" fill="#000">l</text><text transform="translate(301.92 15.70) scale(1.041 1)" font-size="13.99" fill="#000">e</text>
<rect x="472.8" y="42.2" width="98.00" height="154.30" rx="2.2" fill="#fff" fill-opacity="0.8" stroke="#cccccc" stroke-width="1"/>
<rect x="477.0" y="48.15" width="23.0" height="7.7" fill="#0c2947"/>
<rect x="477.0" y="64.90" width="23.0" height="7.7" fill="#d82a6a"/>
<rect x="477.0" y="81.65" width="23.0" height="7.7" fill="#f8c80e"/>
<rect x="477.0" y="98.40" width="23.0" height="7.7" fill="#fdfb8e"/>
<rect x="477.0" y="114.85" width="23.0" height="7.8" fill="url(#hatchL)" stroke="#c0c0c0" stroke-width="1"/>
<path d="M477.00,135.75 L500.50,135.75" fill="none" stroke="#000" stroke-width="1.5" stroke-linejoin="round"/>
<path d="M477.00,152.50 L500.50,152.50" fill="none" stroke="#0000ff" stroke-width="1.5" stroke-dasharray="5.55,2.4" stroke-linejoin="round"/>
<path d="M477.00,169.25 L500.50,169.25" fill="none" stroke="#c0c0c0" stroke-width="1.5" stroke-dasharray="5.55,2.4" stroke-linejoin="round"/>
<path d="M477.00,186.00 L500.50,186.00" fill="none" stroke="#ff0000" stroke-width="1.5" stroke-dasharray="5.55,2.4" stroke-linejoin="round"/>
<text transform="translate(508.75 54.80) scale(0.968 1)" font-size="11.66" font-style="italic" fill="#000">N</text>
<text transform="translate(517.35 56.60) scale(1.003 1)" font-size="8.16" font-style="italic" fill="#000">i</text>
<text transform="translate(519.52 56.60) scale(1.090 1)" font-size="8.16" font-style="italic" fill="#000">m</text>
<text transform="translate(530.04 54.80) scale(1.242 1)" font-size="11.66" fill="#000">=</text>
<text transform="translate(541.45 54.80) scale(1.016 1)" font-size="11.66" fill="#000">0</text>
<text transform="translate(508.75 71.60) scale(0.968 1)" font-size="11.66" font-style="italic" fill="#000">N</text>
<text transform="translate(517.35 73.40) scale(1.003 1)" font-size="8.16" font-style="italic" fill="#000">i</text>
<text transform="translate(519.52 73.40) scale(1.090 1)" font-size="8.16" font-style="italic" fill="#000">m</text>
<text transform="translate(530.04 71.60) scale(1.242 1)" font-size="11.66" fill="#000">=</text>
<text transform="translate(541.54 71.60) scale(0.971 1)" font-size="11.66" fill="#000">1</text>
<text transform="translate(508.75 88.60) scale(0.968 1)" font-size="11.66" font-style="italic" fill="#000">N</text>
<text transform="translate(517.35 90.40) scale(1.003 1)" font-size="8.16" font-style="italic" fill="#000">i</text>
<text transform="translate(519.52 90.40) scale(1.090 1)" font-size="8.16" font-style="italic" fill="#000">m</text>
<text transform="translate(530.04 88.60) scale(1.242 1)" font-size="11.66" fill="#000">=</text>
<text transform="translate(541.42 88.60) scale(0.980 1)" font-size="11.66" fill="#000">2</text>
<text transform="translate(508.75 105.40) scale(0.968 1)" font-size="11.66" font-style="italic" fill="#000">N</text>
<text transform="translate(517.35 107.20) scale(1.003 1)" font-size="8.16" font-style="italic" fill="#000">i</text>
<text transform="translate(519.52 107.20) scale(1.090 1)" font-size="8.16" font-style="italic" fill="#000">m</text>
<text transform="translate(530.04 105.40) scale(1.242 1)" font-size="11.66" fill="#000">&gt;</text>
<text transform="translate(541.42 105.40) scale(0.980 1)" font-size="11.66" fill="#000">2</text>
<text transform="translate(508.97 122.80) scale(1.099 1)" font-size="11.66" fill="#000">m</text><text transform="translate(519.87 122.80) scale(1.025 1)" font-size="11.66" fill="#000">o</text><text transform="translate(526.86 122.80) scale(1.049 1)" font-size="11.66" fill="#000">b</text><text transform="translate(534.06 122.80) scale(0.986 1)" font-size="11.66" fill="#000">i</text><text transform="translate(537.17 122.80) scale(0.986 1)" font-size="11.66" fill="#000">l</text><text transform="translate(540.12 122.80) scale(1.041 1)" font-size="11.66" fill="#000">e</text>
<text transform="translate(508.99 139.30) scale(1.036 1)" font-size="11.66" font-style="italic" fill="#000">n</text>
<text transform="translate(515.95 141.10) scale(1.296 1)" font-size="8.16" font-style="italic" fill="#000">t</text>
<text transform="translate(519.10 141.10) scale(1.020 1)" font-size="8.16" font-style="italic" fill="#000">o</text>
<text transform="translate(523.85 141.10) scale(1.296 1)" font-size="8.16" font-style="italic" fill="#000">t</text>
<text transform="translate(527.59 139.30) scale(0.815 1)" font-size="11.66" fill="#000">(</text>
<text transform="translate(531.81 139.30) scale(1.060 1)" font-size="11.66" font-style="italic" fill="#000">x</text>
<text transform="translate(537.65 139.30) scale(1.405 1)" font-size="11.66" fill="#000">,</text>
<text transform="translate(544.05 139.30) scale(1.296 1)" font-size="11.66" font-style="italic" fill="#000">t</text>
<text transform="translate(549.27 139.30) scale(0.815 1)" font-size="11.66" fill="#000">)</text>
<text transform="translate(509.20 156.00) scale(1.295 1)" font-size="11.66" font-style="italic" fill="#000">τ</text>
<text transform="translate(515.67 157.80) scale(1.041 1)" font-size="8.16" font-style="italic" fill="#000">v</text>
<path d="M529.23,148.00 L522.43,150.40 L529.23,152.70" fill="none" stroke="#000" stroke-width="1.15" stroke-linejoin="miter"/><path d="M522.43,153.40 q1.7,-1.3 3.4,0 t3.4,0 M522.43,155.70 q1.7,-1.3 3.4,0 t3.4,0" fill="none" stroke="#000" stroke-width="1.05"/>
<text transform="translate(529.99 156.00) scale(1.296 1)" font-size="11.66" font-style="italic" fill="#000">t</text>
<path d="M543.75,150.10 L538.05,152.40 L543.75,154.70" fill="none" stroke="#000" stroke-width="1.15"/><path d="M548.15,150.10 L542.45,152.40 L548.15,154.70" fill="none" stroke="#000" stroke-width="1.15"/>
<text transform="translate(550.91 156.00) scale(1.295 1)" font-size="11.66" font-style="italic" fill="#000">τ</text>
<text transform="translate(557.41 157.80) scale(1.090 1)" font-size="8.16" font-style="italic" fill="#000">m</text>
<text transform="translate(508.95 173.20) scale(0.992 1)" font-size="11.66" fill="#000">L</text><text transform="translate(515.31 173.20) scale(0.867 1)" font-size="11.66" fill="#000">a</text><text transform="translate(522.18 173.20) scale(1.049 1)" font-size="11.66" fill="#000">p</text><text transform="translate(529.37 173.20) scale(0.986 1)" font-size="11.66" fill="#000">l</text><text transform="translate(532.46 173.20) scale(0.867 1)" font-size="11.66" fill="#000">a</text><text transform="translate(539.24 173.20) scale(0.967 1)" font-size="11.66" fill="#000">c</text><text transform="translate(545.57 173.20) scale(0.986 1)" font-size="11.66" fill="#000">i</text><text transform="translate(548.65 173.20) scale(0.867 1)" font-size="11.66" fill="#000">a</text><text transform="translate(555.51 173.20) scale(1.040 1)" font-size="11.66" fill="#000">n</text>
<text transform="translate(508.88 189.90) scale(0.940 1)" font-size="11.66" fill="#000">G</text><text transform="translate(517.76 189.90) scale(0.867 1)" font-size="11.66" fill="#000">a</text><text transform="translate(524.57 189.90) scale(1.040 1)" font-size="11.66" fill="#000">u</text><text transform="translate(531.84 189.90) scale(0.924 1)" font-size="11.66" fill="#000">s</text><text transform="translate(537.69 189.90) scale(0.924 1)" font-size="11.66" fill="#000">s</text><text transform="translate(543.53 189.90) scale(0.986 1)" font-size="11.66" fill="#000">i</text><text transform="translate(546.61 189.90) scale(0.867 1)" font-size="11.66" fill="#000">a</text><text transform="translate(553.47 189.90) scale(1.040 1)" font-size="11.66" fill="#000">n</text>
</svg>
</body></html>
